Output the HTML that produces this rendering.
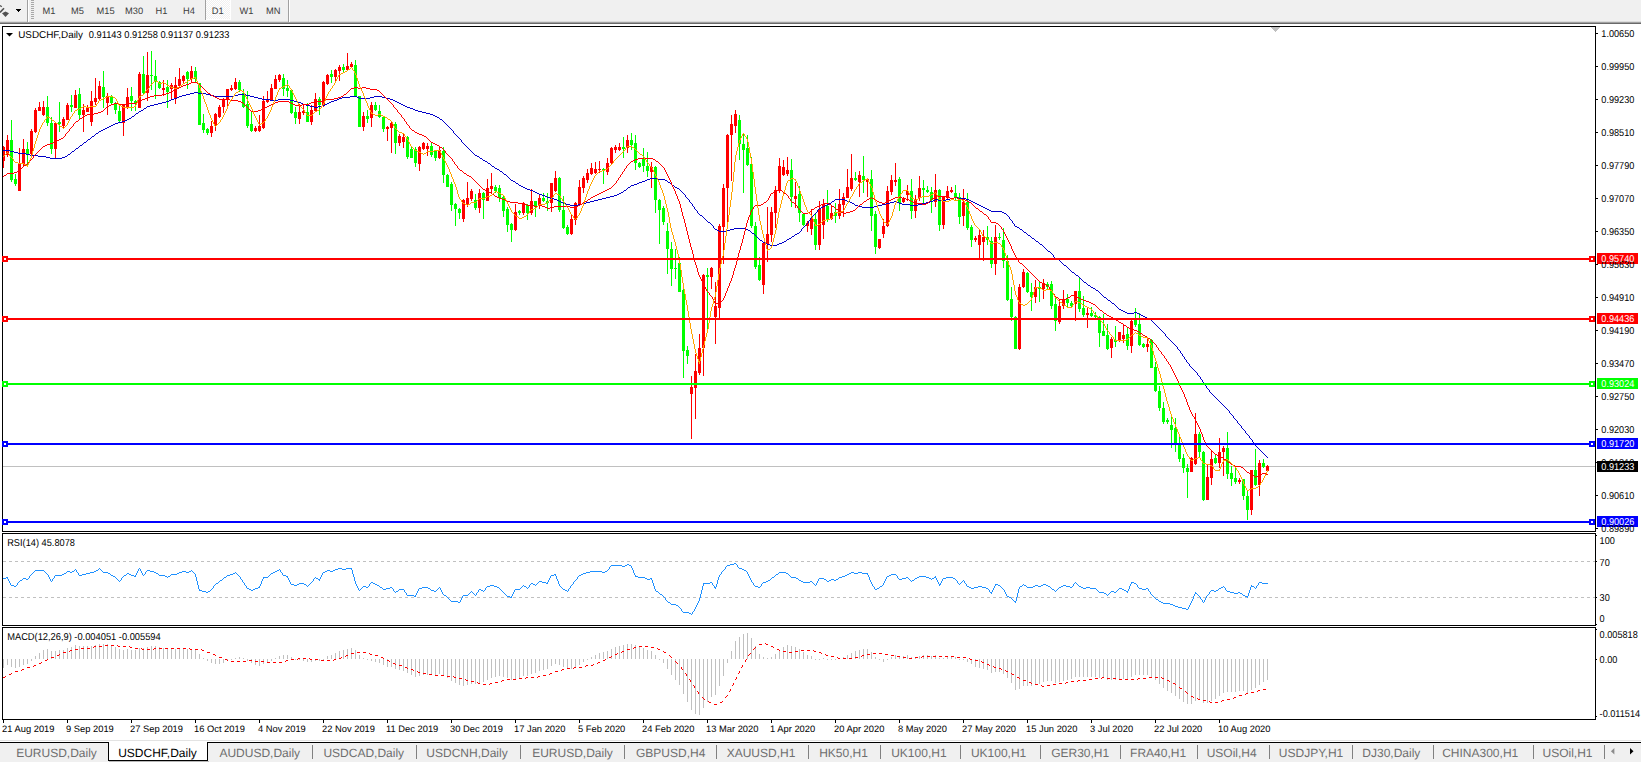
<!DOCTYPE html>
<html><head><meta charset="utf-8"><title>USDCHF,Daily</title>
<style>html,body{margin:0;padding:0;background:#fff;overflow:hidden}body{width:1641px;height:763px;position:relative}</style>
</head><body>
<svg width="1641" height="763" viewBox="0 0 1641 763" style="position:absolute;left:0;top:0" shape-rendering="crispEdges">
<rect x="0" y="0" width="1641" height="763" fill="#ffffff"/>
<rect x="0" y="0" width="1641" height="22" fill="#f0f0f0"/>
<rect x="0" y="21" width="1641" height="1" fill="#dcdcdc"/>
<rect x="0" y="22" width="1641" height="1" fill="#a0a0a0"/>
<rect x="0" y="23" width="1641" height="1" fill="#696969"/>
<rect x="27" y="0" width="1" height="22" fill="#a0a0a0"/><rect x="28" y="0" width="1" height="22" fill="#ffffff"/>
<rect x="31" y="0" width="3" height="1" fill="#a8a8a8"/>
<rect x="31" y="2" width="3" height="1" fill="#a8a8a8"/>
<rect x="31" y="4" width="3" height="1" fill="#a8a8a8"/>
<rect x="31" y="6" width="3" height="1" fill="#a8a8a8"/>
<rect x="31" y="8" width="3" height="1" fill="#a8a8a8"/>
<rect x="31" y="10" width="3" height="1" fill="#a8a8a8"/>
<rect x="31" y="12" width="3" height="1" fill="#a8a8a8"/>
<rect x="31" y="14" width="3" height="1" fill="#a8a8a8"/>
<rect x="31" y="16" width="3" height="1" fill="#a8a8a8"/>
<rect x="31" y="18" width="3" height="1" fill="#a8a8a8"/>
<path d="M16 9h5v1h-1v1h-1v1h-1v-1h-1v-1h-1z" fill="#000"/>
<g shape-rendering="auto"><path d="M0 12.5 L4 8.2" stroke="#505050" stroke-width="1.6" fill="none"/><path d="M0 5.5 L1.8 6.8" stroke="#505050" stroke-width="1.4"/><path d="M2 13.2 L5.5 11.6 L9 13.2 L5.5 17 Z" fill="#505050"/></g>
<pattern id="hx" width="2" height="2" patternUnits="userSpaceOnUse"><rect width="2" height="2" fill="#f0f0f0"/><rect width="1" height="1" fill="#fff"/><rect x="1" y="1" width="1" height="1" fill="#fff"/></pattern>
<rect x="206" y="0" width="24" height="19" fill="url(#hx)"/>
<rect x="205" y="0" width="1" height="20" fill="#a0a0a0"/><rect x="230" y="0" width="1" height="20" fill="#fff"/><rect x="206" y="19" width="25" height="1" fill="#fff"/>
<rect x="288" y="0" width="1" height="22" fill="#a0a0a0"/><rect x="289" y="0" width="1" height="22" fill="#ffffff"/>
<clipPath id="cm"><rect x="3" y="27" width="1592" height="504"/></clipPath>
<g clip-path="url(#cm)">
<rect x="3" y="466" width="1592" height="1" fill="#c0c0c0"/>
<path d="M1271 27h9v1h-1v1h-1v1h-1v1h-1v1h-1v-1h-1v-1h-1v-1h-1v-1h-1z" fill="#c0c0c0"/>
<rect x="3" y="146" width="1" height="22" fill="#ff0000"/><rect x="2" y="147" width="3" height="14" fill="#ff0000"/>
<rect x="7" y="135" width="1" height="22" fill="#ff0000"/><rect x="6" y="140" width="3" height="15" fill="#ff0000"/>
<rect x="11" y="120" width="1" height="62" fill="#00ff00"/><rect x="10" y="140" width="3" height="40" fill="#00ff00"/>
<rect x="15" y="174" width="1" height="12" fill="#00ff00"/><rect x="14" y="179" width="3" height="5" fill="#00ff00"/>
<rect x="19" y="148" width="1" height="43" fill="#ff0000"/><rect x="18" y="164" width="3" height="27" fill="#ff0000"/>
<rect x="23" y="139" width="1" height="27" fill="#ff0000"/><rect x="22" y="149" width="3" height="15" fill="#ff0000"/>
<rect x="27" y="142" width="1" height="24" fill="#00ff00"/><rect x="26" y="149" width="3" height="5" fill="#00ff00"/>
<rect x="31" y="129" width="1" height="27" fill="#ff0000"/><rect x="30" y="131" width="3" height="23" fill="#ff0000"/>
<rect x="35" y="108" width="1" height="25" fill="#ff0000"/><rect x="34" y="110" width="3" height="22" fill="#ff0000"/>
<rect x="39" y="102" width="1" height="9" fill="#ff0000"/><rect x="38" y="107" width="3" height="4" fill="#ff0000"/>
<rect x="43" y="101" width="1" height="15" fill="#ff0000"/><rect x="42" y="107" width="3" height="8" fill="#ff0000"/>
<rect x="47" y="96" width="1" height="30" fill="#00ff00"/><rect x="46" y="107" width="3" height="16" fill="#00ff00"/>
<rect x="51" y="117" width="1" height="37" fill="#00ff00"/><rect x="50" y="123" width="3" height="26" fill="#00ff00"/>
<rect x="55" y="123" width="1" height="35" fill="#ff0000"/><rect x="54" y="123" width="3" height="26" fill="#ff0000"/>
<rect x="59" y="102" width="1" height="30" fill="#00ff00"/><rect x="58" y="122" width="3" height="2" fill="#00ff00"/>
<rect x="63" y="117" width="1" height="11" fill="#ff0000"/><rect x="62" y="119" width="3" height="7" fill="#ff0000"/>
<rect x="67" y="103" width="1" height="17" fill="#ff0000"/><rect x="66" y="105" width="3" height="15" fill="#ff0000"/>
<rect x="71" y="95" width="1" height="17" fill="#00ff00"/><rect x="70" y="105" width="3" height="2" fill="#00ff00"/>
<rect x="75" y="90" width="1" height="18" fill="#ff0000"/><rect x="74" y="95" width="3" height="13" fill="#ff0000"/>
<rect x="79" y="88" width="1" height="31" fill="#00ff00"/><rect x="78" y="94" width="3" height="21" fill="#00ff00"/>
<rect x="83" y="104" width="1" height="28" fill="#ff0000"/><rect x="82" y="110" width="3" height="5" fill="#ff0000"/>
<rect x="87" y="105" width="1" height="7" fill="#ff0000"/><rect x="86" y="107" width="3" height="5" fill="#ff0000"/>
<rect x="91" y="91" width="1" height="35" fill="#ff0000"/><rect x="90" y="101" width="3" height="21" fill="#ff0000"/>
<rect x="95" y="78" width="1" height="27" fill="#ff0000"/><rect x="94" y="98" width="3" height="4" fill="#ff0000"/>
<rect x="99" y="81" width="1" height="19" fill="#ff0000"/><rect x="98" y="86" width="3" height="13" fill="#ff0000"/>
<rect x="103" y="71" width="1" height="37" fill="#00ff00"/><rect x="102" y="87" width="3" height="10" fill="#00ff00"/>
<rect x="107" y="93" width="1" height="22" fill="#ff0000"/><rect x="106" y="96" width="3" height="7" fill="#ff0000"/>
<rect x="111" y="95" width="1" height="9" fill="#00ff00"/><rect x="110" y="96" width="3" height="7" fill="#00ff00"/>
<rect x="115" y="102" width="1" height="12" fill="#00ff00"/><rect x="114" y="103" width="3" height="7" fill="#00ff00"/>
<rect x="119" y="106" width="1" height="17" fill="#00ff00"/><rect x="118" y="111" width="3" height="10" fill="#00ff00"/>
<rect x="123" y="105" width="1" height="31" fill="#ff0000"/><rect x="122" y="105" width="3" height="18" fill="#ff0000"/>
<rect x="127" y="88" width="1" height="21" fill="#ff0000"/><rect x="126" y="97" width="3" height="11" fill="#ff0000"/>
<rect x="131" y="87" width="1" height="24" fill="#00ff00"/><rect x="130" y="96" width="3" height="5" fill="#00ff00"/>
<rect x="135" y="100" width="1" height="11" fill="#00ff00"/><rect x="134" y="101" width="3" height="3" fill="#00ff00"/>
<rect x="139" y="72" width="1" height="36" fill="#ff0000"/><rect x="138" y="74" width="3" height="34" fill="#ff0000"/>
<rect x="143" y="56" width="1" height="39" fill="#00ff00"/><rect x="142" y="74" width="3" height="19" fill="#00ff00"/>
<rect x="147" y="52" width="1" height="49" fill="#ff0000"/><rect x="146" y="75" width="3" height="18" fill="#ff0000"/>
<rect x="151" y="51" width="1" height="39" fill="#00ff00"/><rect x="150" y="75" width="3" height="1" fill="#00ff00"/>
<rect x="155" y="60" width="1" height="39" fill="#00ff00"/><rect x="154" y="76" width="3" height="5" fill="#00ff00"/>
<rect x="159" y="81" width="1" height="8" fill="#00ff00"/><rect x="158" y="82" width="3" height="6" fill="#00ff00"/>
<rect x="163" y="80" width="1" height="16" fill="#ff0000"/><rect x="162" y="88" width="3" height="2" fill="#ff0000"/>
<rect x="167" y="80" width="1" height="28" fill="#00ff00"/><rect x="166" y="87" width="3" height="5" fill="#00ff00"/>
<rect x="171" y="83" width="1" height="17" fill="#ff0000"/><rect x="170" y="85" width="3" height="4" fill="#ff0000"/>
<rect x="175" y="77" width="1" height="27" fill="#ff0000"/><rect x="174" y="85" width="3" height="14" fill="#ff0000"/>
<rect x="179" y="68" width="1" height="20" fill="#ff0000"/><rect x="178" y="79" width="3" height="7" fill="#ff0000"/>
<rect x="183" y="75" width="1" height="9" fill="#ff0000"/><rect x="182" y="76" width="3" height="5" fill="#ff0000"/>
<rect x="187" y="71" width="1" height="18" fill="#00ff00"/><rect x="186" y="72" width="3" height="7" fill="#00ff00"/>
<rect x="191" y="66" width="1" height="16" fill="#ff0000"/><rect x="190" y="71" width="3" height="8" fill="#ff0000"/>
<rect x="195" y="67" width="1" height="15" fill="#00ff00"/><rect x="194" y="71" width="3" height="8" fill="#00ff00"/>
<rect x="199" y="83" width="1" height="42" fill="#00ff00"/><rect x="198" y="83" width="3" height="42" fill="#00ff00"/>
<rect x="203" y="114" width="1" height="19" fill="#00ff00"/><rect x="202" y="123" width="3" height="7" fill="#00ff00"/>
<rect x="207" y="128" width="1" height="7" fill="#00ff00"/><rect x="206" y="129" width="3" height="4" fill="#00ff00"/>
<rect x="211" y="121" width="1" height="16" fill="#ff0000"/><rect x="210" y="126" width="3" height="7" fill="#ff0000"/>
<rect x="215" y="113" width="1" height="18" fill="#ff0000"/><rect x="214" y="114" width="3" height="12" fill="#ff0000"/>
<rect x="219" y="105" width="1" height="13" fill="#ff0000"/><rect x="218" y="107" width="3" height="10" fill="#ff0000"/>
<rect x="223" y="98" width="1" height="15" fill="#ff0000"/><rect x="222" y="99" width="3" height="8" fill="#ff0000"/>
<rect x="227" y="89" width="1" height="17" fill="#ff0000"/><rect x="226" y="89" width="3" height="11" fill="#ff0000"/>
<rect x="231" y="85" width="1" height="6" fill="#ff0000"/><rect x="230" y="88" width="3" height="2" fill="#ff0000"/>
<rect x="235" y="78" width="1" height="12" fill="#ff0000"/><rect x="234" y="82" width="3" height="7" fill="#ff0000"/>
<rect x="239" y="80" width="1" height="12" fill="#00ff00"/><rect x="238" y="82" width="3" height="8" fill="#00ff00"/>
<rect x="243" y="89" width="1" height="19" fill="#00ff00"/><rect x="242" y="93" width="3" height="14" fill="#00ff00"/>
<rect x="247" y="91" width="1" height="37" fill="#00ff00"/><rect x="246" y="104" width="3" height="22" fill="#00ff00"/>
<rect x="251" y="112" width="1" height="20" fill="#00ff00"/><rect x="250" y="124" width="3" height="7" fill="#00ff00"/>
<rect x="255" y="126" width="1" height="6" fill="#ff0000"/><rect x="254" y="128" width="3" height="3" fill="#ff0000"/>
<rect x="259" y="115" width="1" height="17" fill="#ff0000"/><rect x="258" y="126" width="3" height="5" fill="#ff0000"/>
<rect x="263" y="96" width="1" height="33" fill="#ff0000"/><rect x="262" y="101" width="3" height="27" fill="#ff0000"/>
<rect x="267" y="91" width="1" height="12" fill="#ff0000"/><rect x="266" y="99" width="3" height="3" fill="#ff0000"/>
<rect x="271" y="84" width="1" height="17" fill="#ff0000"/><rect x="270" y="88" width="3" height="12" fill="#ff0000"/>
<rect x="275" y="75" width="1" height="14" fill="#ff0000"/><rect x="274" y="79" width="3" height="10" fill="#ff0000"/>
<rect x="279" y="74" width="1" height="8" fill="#ff0000"/><rect x="278" y="75" width="3" height="5" fill="#ff0000"/>
<rect x="283" y="74" width="1" height="22" fill="#00ff00"/><rect x="282" y="78" width="3" height="11" fill="#00ff00"/>
<rect x="287" y="80" width="1" height="17" fill="#00ff00"/><rect x="286" y="88" width="3" height="3" fill="#00ff00"/>
<rect x="291" y="89" width="1" height="25" fill="#00ff00"/><rect x="290" y="90" width="3" height="23" fill="#00ff00"/>
<rect x="295" y="107" width="1" height="17" fill="#00ff00"/><rect x="294" y="112" width="3" height="6" fill="#00ff00"/>
<rect x="299" y="104" width="1" height="20" fill="#ff0000"/><rect x="298" y="112" width="3" height="7" fill="#ff0000"/>
<rect x="303" y="105" width="1" height="10" fill="#ff0000"/><rect x="302" y="111" width="3" height="2" fill="#ff0000"/>
<rect x="307" y="103" width="1" height="19" fill="#00ff00"/><rect x="306" y="112" width="3" height="10" fill="#00ff00"/>
<rect x="311" y="105" width="1" height="20" fill="#ff0000"/><rect x="310" y="110" width="3" height="12" fill="#ff0000"/>
<rect x="315" y="93" width="1" height="19" fill="#ff0000"/><rect x="314" y="99" width="3" height="12" fill="#ff0000"/>
<rect x="319" y="97" width="1" height="18" fill="#00ff00"/><rect x="318" y="99" width="3" height="6" fill="#00ff00"/>
<rect x="323" y="81" width="1" height="26" fill="#ff0000"/><rect x="322" y="82" width="3" height="23" fill="#ff0000"/>
<rect x="327" y="74" width="1" height="11" fill="#ff0000"/><rect x="326" y="75" width="3" height="9" fill="#ff0000"/>
<rect x="331" y="70" width="1" height="13" fill="#00ff00"/><rect x="330" y="74" width="3" height="3" fill="#00ff00"/>
<rect x="335" y="69" width="1" height="13" fill="#ff0000"/><rect x="334" y="70" width="3" height="7" fill="#ff0000"/>
<rect x="339" y="65" width="1" height="16" fill="#ff0000"/><rect x="338" y="67" width="3" height="4" fill="#ff0000"/>
<rect x="343" y="64" width="1" height="8" fill="#00ff00"/><rect x="342" y="67" width="3" height="3" fill="#00ff00"/>
<rect x="347" y="53" width="1" height="18" fill="#ff0000"/><rect x="346" y="66" width="3" height="4" fill="#ff0000"/>
<rect x="351" y="62" width="1" height="6" fill="#ff0000"/><rect x="350" y="64" width="3" height="3" fill="#ff0000"/>
<rect x="355" y="60" width="1" height="37" fill="#00ff00"/><rect x="354" y="65" width="3" height="31" fill="#00ff00"/>
<rect x="359" y="96" width="1" height="31" fill="#00ff00"/><rect x="358" y="96" width="3" height="31" fill="#00ff00"/>
<rect x="363" y="112" width="1" height="19" fill="#ff0000"/><rect x="362" y="116" width="3" height="11" fill="#ff0000"/>
<rect x="367" y="110" width="1" height="13" fill="#00ff00"/><rect x="366" y="116" width="3" height="3" fill="#00ff00"/>
<rect x="371" y="102" width="1" height="25" fill="#ff0000"/><rect x="370" y="105" width="3" height="13" fill="#ff0000"/>
<rect x="375" y="102" width="1" height="9" fill="#00ff00"/><rect x="374" y="105" width="3" height="5" fill="#00ff00"/>
<rect x="379" y="105" width="1" height="13" fill="#00ff00"/><rect x="378" y="111" width="3" height="6" fill="#00ff00"/>
<rect x="383" y="116" width="1" height="16" fill="#00ff00"/><rect x="382" y="117" width="3" height="12" fill="#00ff00"/>
<rect x="387" y="126" width="1" height="15" fill="#ff0000"/><rect x="386" y="127" width="3" height="2" fill="#ff0000"/>
<rect x="391" y="122" width="1" height="31" fill="#ff0000"/><rect x="390" y="123" width="3" height="5" fill="#ff0000"/>
<rect x="395" y="122" width="1" height="32" fill="#00ff00"/><rect x="394" y="124" width="3" height="19" fill="#00ff00"/>
<rect x="399" y="134" width="1" height="12" fill="#ff0000"/><rect x="398" y="136" width="3" height="7" fill="#ff0000"/>
<rect x="403" y="134" width="1" height="14" fill="#ff0000"/><rect x="402" y="137" width="3" height="5" fill="#ff0000"/>
<rect x="407" y="136" width="1" height="23" fill="#00ff00"/><rect x="406" y="137" width="3" height="20" fill="#00ff00"/>
<rect x="411" y="147" width="1" height="11" fill="#00ff00"/><rect x="410" y="149" width="3" height="9" fill="#00ff00"/>
<rect x="415" y="147" width="1" height="20" fill="#00ff00"/><rect x="414" y="149" width="3" height="14" fill="#00ff00"/>
<rect x="419" y="146" width="1" height="25" fill="#ff0000"/><rect x="418" y="147" width="3" height="17" fill="#ff0000"/>
<rect x="423" y="142" width="1" height="8" fill="#ff0000"/><rect x="422" y="143" width="3" height="6" fill="#ff0000"/>
<rect x="427" y="143" width="1" height="13" fill="#ff0000"/><rect x="426" y="146" width="3" height="3" fill="#ff0000"/>
<rect x="431" y="142" width="1" height="15" fill="#00ff00"/><rect x="430" y="146" width="3" height="9" fill="#00ff00"/>
<rect x="435" y="150" width="1" height="11" fill="#00ff00"/><rect x="434" y="151" width="3" height="7" fill="#00ff00"/>
<rect x="439" y="147" width="1" height="12" fill="#ff0000"/><rect x="438" y="150" width="3" height="8" fill="#ff0000"/>
<rect x="443" y="147" width="1" height="36" fill="#00ff00"/><rect x="442" y="151" width="3" height="24" fill="#00ff00"/>
<rect x="447" y="174" width="1" height="13" fill="#00ff00"/><rect x="446" y="175" width="3" height="12" fill="#00ff00"/>
<rect x="451" y="182" width="1" height="29" fill="#00ff00"/><rect x="450" y="184" width="3" height="21" fill="#00ff00"/>
<rect x="455" y="203" width="1" height="23" fill="#00ff00"/><rect x="454" y="204" width="3" height="5" fill="#00ff00"/>
<rect x="459" y="208" width="1" height="11" fill="#00ff00"/><rect x="458" y="209" width="3" height="4" fill="#00ff00"/>
<rect x="463" y="199" width="1" height="23" fill="#ff0000"/><rect x="462" y="200" width="3" height="19" fill="#ff0000"/>
<rect x="467" y="182" width="1" height="25" fill="#ff0000"/><rect x="466" y="198" width="3" height="6" fill="#ff0000"/>
<rect x="471" y="189" width="1" height="12" fill="#ff0000"/><rect x="470" y="191" width="3" height="8" fill="#ff0000"/>
<rect x="475" y="194" width="1" height="16" fill="#00ff00"/><rect x="474" y="200" width="3" height="8" fill="#00ff00"/>
<rect x="479" y="189" width="1" height="24" fill="#ff0000"/><rect x="478" y="193" width="3" height="15" fill="#ff0000"/>
<rect x="483" y="192" width="1" height="27" fill="#00ff00"/><rect x="482" y="193" width="3" height="7" fill="#00ff00"/>
<rect x="487" y="179" width="1" height="22" fill="#ff0000"/><rect x="486" y="188" width="3" height="13" fill="#ff0000"/>
<rect x="491" y="173" width="1" height="21" fill="#ff0000"/><rect x="490" y="186" width="3" height="3" fill="#ff0000"/>
<rect x="495" y="185" width="1" height="8" fill="#00ff00"/><rect x="494" y="187" width="3" height="4" fill="#00ff00"/>
<rect x="499" y="185" width="1" height="17" fill="#00ff00"/><rect x="498" y="188" width="3" height="10" fill="#00ff00"/>
<rect x="503" y="195" width="1" height="22" fill="#00ff00"/><rect x="502" y="197" width="3" height="14" fill="#00ff00"/>
<rect x="507" y="207" width="1" height="25" fill="#00ff00"/><rect x="506" y="209" width="3" height="16" fill="#00ff00"/>
<rect x="511" y="223" width="1" height="19" fill="#00ff00"/><rect x="510" y="224" width="3" height="6" fill="#00ff00"/>
<rect x="515" y="204" width="1" height="27" fill="#ff0000"/><rect x="514" y="212" width="3" height="18" fill="#ff0000"/>
<rect x="519" y="210" width="1" height="5" fill="#00ff00"/><rect x="518" y="211" width="3" height="2" fill="#00ff00"/>
<rect x="523" y="202" width="1" height="13" fill="#ff0000"/><rect x="522" y="203" width="3" height="10" fill="#ff0000"/>
<rect x="527" y="204" width="1" height="16" fill="#00ff00"/><rect x="526" y="205" width="3" height="8" fill="#00ff00"/>
<rect x="531" y="189" width="1" height="26" fill="#ff0000"/><rect x="530" y="201" width="3" height="12" fill="#ff0000"/>
<rect x="535" y="201" width="1" height="16" fill="#00ff00"/><rect x="534" y="201" width="3" height="6" fill="#00ff00"/>
<rect x="539" y="194" width="1" height="15" fill="#ff0000"/><rect x="538" y="198" width="3" height="7" fill="#ff0000"/>
<rect x="543" y="193" width="1" height="9" fill="#00ff00"/><rect x="542" y="198" width="3" height="3" fill="#00ff00"/>
<rect x="547" y="193" width="1" height="18" fill="#00ff00"/><rect x="546" y="201" width="3" height="2" fill="#00ff00"/>
<rect x="551" y="183" width="1" height="29" fill="#ff0000"/><rect x="550" y="183" width="3" height="20" fill="#ff0000"/>
<rect x="555" y="171" width="1" height="21" fill="#ff0000"/><rect x="554" y="178" width="3" height="13" fill="#ff0000"/>
<rect x="559" y="177" width="1" height="35" fill="#00ff00"/><rect x="558" y="178" width="3" height="32" fill="#00ff00"/>
<rect x="563" y="196" width="1" height="33" fill="#00ff00"/><rect x="562" y="210" width="3" height="18" fill="#00ff00"/>
<rect x="567" y="225" width="1" height="10" fill="#00ff00"/><rect x="566" y="227" width="3" height="7" fill="#00ff00"/>
<rect x="571" y="215" width="1" height="20" fill="#ff0000"/><rect x="570" y="219" width="3" height="15" fill="#ff0000"/>
<rect x="575" y="202" width="1" height="23" fill="#ff0000"/><rect x="574" y="203" width="3" height="17" fill="#ff0000"/>
<rect x="579" y="180" width="1" height="25" fill="#ff0000"/><rect x="578" y="187" width="3" height="17" fill="#ff0000"/>
<rect x="583" y="176" width="1" height="17" fill="#ff0000"/><rect x="582" y="178" width="3" height="10" fill="#ff0000"/>
<rect x="587" y="169" width="1" height="14" fill="#ff0000"/><rect x="586" y="173" width="3" height="7" fill="#ff0000"/>
<rect x="591" y="163" width="1" height="12" fill="#ff0000"/><rect x="590" y="168" width="3" height="6" fill="#ff0000"/>
<rect x="595" y="162" width="1" height="12" fill="#ff0000"/><rect x="594" y="169" width="3" height="4" fill="#ff0000"/>
<rect x="599" y="161" width="1" height="12" fill="#ff0000"/><rect x="598" y="169" width="3" height="1" fill="#ff0000"/>
<rect x="603" y="168" width="1" height="16" fill="#00ff00"/><rect x="602" y="169" width="3" height="2" fill="#00ff00"/>
<rect x="607" y="158" width="1" height="17" fill="#ff0000"/><rect x="606" y="163" width="3" height="9" fill="#ff0000"/>
<rect x="611" y="147" width="1" height="17" fill="#ff0000"/><rect x="610" y="148" width="3" height="15" fill="#ff0000"/>
<rect x="615" y="145" width="1" height="8" fill="#ff0000"/><rect x="614" y="147" width="3" height="3" fill="#ff0000"/>
<rect x="619" y="143" width="1" height="8" fill="#ff0000"/><rect x="618" y="147" width="3" height="3" fill="#ff0000"/>
<rect x="623" y="137" width="1" height="21" fill="#00ff00"/><rect x="622" y="147" width="3" height="2" fill="#00ff00"/>
<rect x="627" y="135" width="1" height="18" fill="#ff0000"/><rect x="626" y="140" width="3" height="8" fill="#ff0000"/>
<rect x="631" y="133" width="1" height="17" fill="#00ff00"/><rect x="630" y="140" width="3" height="5" fill="#00ff00"/>
<rect x="635" y="135" width="1" height="35" fill="#00ff00"/><rect x="634" y="143" width="3" height="20" fill="#00ff00"/>
<rect x="639" y="162" width="1" height="6" fill="#00ff00"/><rect x="638" y="163" width="3" height="4" fill="#00ff00"/>
<rect x="643" y="148" width="1" height="24" fill="#00ff00"/><rect x="642" y="159" width="3" height="7" fill="#00ff00"/>
<rect x="647" y="152" width="1" height="25" fill="#00ff00"/><rect x="646" y="166" width="3" height="5" fill="#00ff00"/>
<rect x="651" y="162" width="1" height="26" fill="#ff0000"/><rect x="650" y="167" width="3" height="5" fill="#ff0000"/>
<rect x="655" y="166" width="1" height="47" fill="#00ff00"/><rect x="654" y="167" width="3" height="33" fill="#00ff00"/>
<rect x="659" y="199" width="1" height="45" fill="#00ff00"/><rect x="658" y="200" width="3" height="10" fill="#00ff00"/>
<rect x="663" y="206" width="1" height="19" fill="#00ff00"/><rect x="662" y="208" width="3" height="14" fill="#00ff00"/>
<rect x="667" y="223" width="1" height="51" fill="#00ff00"/><rect x="666" y="231" width="3" height="18" fill="#00ff00"/>
<rect x="671" y="242" width="1" height="44" fill="#00ff00"/><rect x="670" y="249" width="3" height="20" fill="#00ff00"/>
<rect x="675" y="249" width="1" height="30" fill="#00ff00"/><rect x="674" y="268" width="3" height="1" fill="#00ff00"/>
<rect x="679" y="257" width="1" height="35" fill="#00ff00"/><rect x="678" y="263" width="3" height="29" fill="#00ff00"/>
<rect x="683" y="289" width="1" height="89" fill="#00ff00"/><rect x="682" y="290" width="3" height="61" fill="#00ff00"/>
<rect x="687" y="346" width="1" height="18" fill="#00ff00"/><rect x="686" y="350" width="3" height="6" fill="#00ff00"/>
<rect x="691" y="376" width="1" height="63" fill="#ff0000"/><rect x="690" y="387" width="3" height="7" fill="#ff0000"/>
<rect x="695" y="354" width="1" height="65" fill="#ff0000"/><rect x="694" y="371" width="3" height="17" fill="#ff0000"/>
<rect x="699" y="334" width="1" height="41" fill="#ff0000"/><rect x="698" y="348" width="3" height="25" fill="#ff0000"/>
<rect x="703" y="274" width="1" height="102" fill="#ff0000"/><rect x="702" y="275" width="3" height="73" fill="#ff0000"/>
<rect x="707" y="268" width="1" height="61" fill="#00ff00"/><rect x="706" y="275" width="3" height="2" fill="#00ff00"/>
<rect x="711" y="267" width="1" height="22" fill="#ff0000"/><rect x="710" y="268" width="3" height="9" fill="#ff0000"/>
<rect x="715" y="282" width="1" height="62" fill="#ff0000"/><rect x="714" y="306" width="3" height="11" fill="#ff0000"/>
<rect x="719" y="224" width="1" height="94" fill="#ff0000"/><rect x="718" y="226" width="3" height="82" fill="#ff0000"/>
<rect x="723" y="184" width="1" height="80" fill="#ff0000"/><rect x="722" y="188" width="3" height="39" fill="#ff0000"/>
<rect x="727" y="134" width="1" height="88" fill="#ff0000"/><rect x="726" y="135" width="3" height="53" fill="#ff0000"/>
<rect x="731" y="115" width="1" height="66" fill="#ff0000"/><rect x="730" y="124" width="3" height="11" fill="#ff0000"/>
<rect x="735" y="110" width="1" height="23" fill="#ff0000"/><rect x="734" y="114" width="3" height="12" fill="#ff0000"/>
<rect x="739" y="115" width="1" height="45" fill="#00ff00"/><rect x="738" y="120" width="3" height="24" fill="#00ff00"/>
<rect x="743" y="133" width="1" height="60" fill="#00ff00"/><rect x="742" y="144" width="3" height="6" fill="#00ff00"/>
<rect x="747" y="135" width="1" height="31" fill="#00ff00"/><rect x="746" y="148" width="3" height="17" fill="#00ff00"/>
<rect x="751" y="157" width="1" height="71" fill="#00ff00"/><rect x="750" y="164" width="3" height="62" fill="#00ff00"/>
<rect x="755" y="222" width="1" height="47" fill="#00ff00"/><rect x="754" y="226" width="3" height="41" fill="#00ff00"/>
<rect x="759" y="257" width="1" height="24" fill="#00ff00"/><rect x="758" y="265" width="3" height="15" fill="#00ff00"/>
<rect x="763" y="243" width="1" height="51" fill="#ff0000"/><rect x="762" y="243" width="3" height="42" fill="#ff0000"/>
<rect x="767" y="207" width="1" height="55" fill="#ff0000"/><rect x="766" y="234" width="3" height="10" fill="#ff0000"/>
<rect x="771" y="207" width="1" height="35" fill="#ff0000"/><rect x="770" y="212" width="3" height="23" fill="#ff0000"/>
<rect x="775" y="186" width="1" height="42" fill="#ff0000"/><rect x="774" y="190" width="3" height="23" fill="#ff0000"/>
<rect x="779" y="158" width="1" height="35" fill="#ff0000"/><rect x="778" y="166" width="3" height="25" fill="#ff0000"/>
<rect x="783" y="160" width="1" height="16" fill="#ff0000"/><rect x="782" y="167" width="3" height="8" fill="#ff0000"/>
<rect x="787" y="157" width="1" height="19" fill="#ff0000"/><rect x="786" y="170" width="3" height="4" fill="#ff0000"/>
<rect x="791" y="159" width="1" height="48" fill="#00ff00"/><rect x="790" y="170" width="3" height="27" fill="#00ff00"/>
<rect x="795" y="182" width="1" height="26" fill="#ff0000"/><rect x="794" y="196" width="3" height="3" fill="#ff0000"/>
<rect x="799" y="186" width="1" height="36" fill="#00ff00"/><rect x="798" y="194" width="3" height="19" fill="#00ff00"/>
<rect x="803" y="213" width="1" height="13" fill="#00ff00"/><rect x="802" y="214" width="3" height="11" fill="#00ff00"/>
<rect x="807" y="221" width="1" height="11" fill="#ff0000"/><rect x="806" y="223" width="3" height="3" fill="#ff0000"/>
<rect x="811" y="209" width="1" height="26" fill="#ff0000"/><rect x="810" y="218" width="3" height="11" fill="#ff0000"/>
<rect x="815" y="214" width="1" height="36" fill="#00ff00"/><rect x="814" y="219" width="3" height="26" fill="#00ff00"/>
<rect x="819" y="201" width="1" height="49" fill="#ff0000"/><rect x="818" y="209" width="3" height="36" fill="#ff0000"/>
<rect x="823" y="199" width="1" height="40" fill="#ff0000"/><rect x="822" y="204" width="3" height="21" fill="#ff0000"/>
<rect x="827" y="190" width="1" height="32" fill="#00ff00"/><rect x="826" y="206" width="3" height="14" fill="#00ff00"/>
<rect x="831" y="205" width="1" height="15" fill="#ff0000"/><rect x="830" y="213" width="3" height="6" fill="#ff0000"/>
<rect x="835" y="203" width="1" height="20" fill="#00ff00"/><rect x="834" y="212" width="3" height="4" fill="#00ff00"/>
<rect x="839" y="189" width="1" height="30" fill="#ff0000"/><rect x="838" y="204" width="3" height="12" fill="#ff0000"/>
<rect x="843" y="193" width="1" height="24" fill="#ff0000"/><rect x="842" y="197" width="3" height="8" fill="#ff0000"/>
<rect x="847" y="169" width="1" height="29" fill="#ff0000"/><rect x="846" y="187" width="3" height="11" fill="#ff0000"/>
<rect x="851" y="154" width="1" height="37" fill="#ff0000"/><rect x="850" y="178" width="3" height="11" fill="#ff0000"/>
<rect x="855" y="172" width="1" height="9" fill="#00ff00"/><rect x="854" y="178" width="3" height="2" fill="#00ff00"/>
<rect x="859" y="171" width="1" height="26" fill="#ff0000"/><rect x="858" y="175" width="3" height="7" fill="#ff0000"/>
<rect x="863" y="156" width="1" height="37" fill="#00ff00"/><rect x="862" y="176" width="3" height="4" fill="#00ff00"/>
<rect x="867" y="178" width="1" height="19" fill="#ff0000"/><rect x="866" y="179" width="3" height="3" fill="#ff0000"/>
<rect x="871" y="170" width="1" height="61" fill="#00ff00"/><rect x="870" y="179" width="3" height="37" fill="#00ff00"/>
<rect x="875" y="211" width="1" height="43" fill="#00ff00"/><rect x="874" y="214" width="3" height="33" fill="#00ff00"/>
<rect x="879" y="239" width="1" height="10" fill="#ff0000"/><rect x="878" y="239" width="3" height="9" fill="#ff0000"/>
<rect x="883" y="219" width="1" height="19" fill="#ff0000"/><rect x="882" y="226" width="3" height="8" fill="#ff0000"/>
<rect x="887" y="186" width="1" height="41" fill="#ff0000"/><rect x="886" y="191" width="3" height="35" fill="#ff0000"/>
<rect x="891" y="175" width="1" height="20" fill="#ff0000"/><rect x="890" y="180" width="3" height="12" fill="#ff0000"/>
<rect x="895" y="163" width="1" height="23" fill="#ff0000"/><rect x="894" y="180" width="3" height="2" fill="#ff0000"/>
<rect x="899" y="177" width="1" height="34" fill="#00ff00"/><rect x="898" y="179" width="3" height="24" fill="#00ff00"/>
<rect x="903" y="197" width="1" height="6" fill="#ff0000"/><rect x="902" y="198" width="3" height="4" fill="#ff0000"/>
<rect x="907" y="185" width="1" height="16" fill="#ff0000"/><rect x="906" y="191" width="3" height="4" fill="#ff0000"/>
<rect x="911" y="179" width="1" height="40" fill="#00ff00"/><rect x="910" y="191" width="3" height="20" fill="#00ff00"/>
<rect x="915" y="195" width="1" height="23" fill="#ff0000"/><rect x="914" y="199" width="3" height="12" fill="#ff0000"/>
<rect x="919" y="176" width="1" height="25" fill="#ff0000"/><rect x="918" y="188" width="3" height="10" fill="#ff0000"/>
<rect x="923" y="180" width="1" height="24" fill="#00ff00"/><rect x="922" y="188" width="3" height="2" fill="#00ff00"/>
<rect x="927" y="186" width="1" height="7" fill="#00ff00"/><rect x="926" y="190" width="3" height="2" fill="#00ff00"/>
<rect x="931" y="187" width="1" height="26" fill="#00ff00"/><rect x="930" y="192" width="3" height="8" fill="#00ff00"/>
<rect x="935" y="174" width="1" height="33" fill="#ff0000"/><rect x="934" y="190" width="3" height="12" fill="#ff0000"/>
<rect x="939" y="189" width="1" height="42" fill="#00ff00"/><rect x="938" y="190" width="3" height="35" fill="#00ff00"/>
<rect x="943" y="196" width="1" height="33" fill="#ff0000"/><rect x="942" y="197" width="3" height="28" fill="#ff0000"/>
<rect x="947" y="186" width="1" height="13" fill="#ff0000"/><rect x="946" y="191" width="3" height="7" fill="#ff0000"/>
<rect x="951" y="187" width="1" height="6" fill="#ff0000"/><rect x="950" y="190" width="3" height="2" fill="#ff0000"/>
<rect x="955" y="185" width="1" height="15" fill="#00ff00"/><rect x="954" y="193" width="3" height="5" fill="#00ff00"/>
<rect x="959" y="193" width="1" height="31" fill="#00ff00"/><rect x="958" y="197" width="3" height="20" fill="#00ff00"/>
<rect x="963" y="189" width="1" height="37" fill="#ff0000"/><rect x="962" y="202" width="3" height="14" fill="#ff0000"/>
<rect x="967" y="193" width="1" height="37" fill="#00ff00"/><rect x="966" y="202" width="3" height="26" fill="#00ff00"/>
<rect x="971" y="225" width="1" height="22" fill="#00ff00"/><rect x="970" y="227" width="3" height="13" fill="#00ff00"/>
<rect x="975" y="236" width="1" height="6" fill="#ff0000"/><rect x="974" y="238" width="3" height="2" fill="#ff0000"/>
<rect x="979" y="230" width="1" height="28" fill="#ff0000"/><rect x="978" y="235" width="3" height="10" fill="#ff0000"/>
<rect x="983" y="230" width="1" height="31" fill="#ff0000"/><rect x="982" y="237" width="3" height="5" fill="#ff0000"/>
<rect x="987" y="226" width="1" height="19" fill="#00ff00"/><rect x="986" y="237" width="3" height="3" fill="#00ff00"/>
<rect x="991" y="237" width="1" height="31" fill="#00ff00"/><rect x="990" y="241" width="3" height="23" fill="#00ff00"/>
<rect x="995" y="225" width="1" height="50" fill="#ff0000"/><rect x="994" y="237" width="3" height="27" fill="#ff0000"/>
<rect x="999" y="233" width="1" height="7" fill="#00ff00"/><rect x="998" y="237" width="3" height="1" fill="#00ff00"/>
<rect x="1003" y="228" width="1" height="40" fill="#00ff00"/><rect x="1002" y="240" width="3" height="21" fill="#00ff00"/>
<rect x="1007" y="255" width="1" height="46" fill="#00ff00"/><rect x="1006" y="261" width="3" height="39" fill="#00ff00"/>
<rect x="1011" y="287" width="1" height="34" fill="#00ff00"/><rect x="1010" y="299" width="3" height="18" fill="#00ff00"/>
<rect x="1015" y="316" width="1" height="33" fill="#00ff00"/><rect x="1014" y="317" width="3" height="32" fill="#00ff00"/>
<rect x="1019" y="284" width="1" height="66" fill="#ff0000"/><rect x="1018" y="287" width="3" height="62" fill="#ff0000"/>
<rect x="1023" y="269" width="1" height="19" fill="#ff0000"/><rect x="1022" y="272" width="3" height="15" fill="#ff0000"/>
<rect x="1027" y="272" width="1" height="21" fill="#00ff00"/><rect x="1026" y="273" width="3" height="19" fill="#00ff00"/>
<rect x="1031" y="283" width="1" height="28" fill="#00ff00"/><rect x="1030" y="292" width="3" height="5" fill="#00ff00"/>
<rect x="1035" y="280" width="1" height="23" fill="#ff0000"/><rect x="1034" y="287" width="3" height="10" fill="#ff0000"/>
<rect x="1039" y="281" width="1" height="21" fill="#00ff00"/><rect x="1038" y="287" width="3" height="2" fill="#00ff00"/>
<rect x="1043" y="279" width="1" height="20" fill="#ff0000"/><rect x="1042" y="283" width="3" height="6" fill="#ff0000"/>
<rect x="1047" y="282" width="1" height="7" fill="#00ff00"/><rect x="1046" y="284" width="3" height="3" fill="#00ff00"/>
<rect x="1051" y="281" width="1" height="28" fill="#00ff00"/><rect x="1050" y="284" width="3" height="22" fill="#00ff00"/>
<rect x="1055" y="298" width="1" height="33" fill="#00ff00"/><rect x="1054" y="304" width="3" height="17" fill="#00ff00"/>
<rect x="1059" y="299" width="1" height="25" fill="#ff0000"/><rect x="1058" y="306" width="3" height="16" fill="#ff0000"/>
<rect x="1063" y="290" width="1" height="19" fill="#ff0000"/><rect x="1062" y="299" width="3" height="7" fill="#ff0000"/>
<rect x="1067" y="294" width="1" height="14" fill="#00ff00"/><rect x="1066" y="299" width="3" height="4" fill="#00ff00"/>
<rect x="1071" y="301" width="1" height="7" fill="#00ff00"/><rect x="1070" y="303" width="3" height="3" fill="#00ff00"/>
<rect x="1075" y="291" width="1" height="30" fill="#ff0000"/><rect x="1074" y="291" width="3" height="13" fill="#ff0000"/>
<rect x="1079" y="278" width="1" height="34" fill="#00ff00"/><rect x="1078" y="291" width="3" height="18" fill="#00ff00"/>
<rect x="1083" y="296" width="1" height="21" fill="#00ff00"/><rect x="1082" y="308" width="3" height="7" fill="#00ff00"/>
<rect x="1087" y="308" width="1" height="20" fill="#ff0000"/><rect x="1086" y="313" width="3" height="2" fill="#ff0000"/>
<rect x="1091" y="307" width="1" height="10" fill="#00ff00"/><rect x="1090" y="313" width="3" height="3" fill="#00ff00"/>
<rect x="1095" y="312" width="1" height="7" fill="#00ff00"/><rect x="1094" y="315" width="3" height="2" fill="#00ff00"/>
<rect x="1099" y="316" width="1" height="31" fill="#00ff00"/><rect x="1098" y="317" width="3" height="16" fill="#00ff00"/>
<rect x="1103" y="314" width="1" height="22" fill="#00ff00"/><rect x="1102" y="331" width="3" height="5" fill="#00ff00"/>
<rect x="1107" y="324" width="1" height="26" fill="#00ff00"/><rect x="1106" y="335" width="3" height="14" fill="#00ff00"/>
<rect x="1111" y="337" width="1" height="21" fill="#ff0000"/><rect x="1110" y="339" width="3" height="9" fill="#ff0000"/>
<rect x="1115" y="326" width="1" height="21" fill="#00ff00"/><rect x="1114" y="340" width="3" height="2" fill="#00ff00"/>
<rect x="1119" y="332" width="1" height="10" fill="#ff0000"/><rect x="1118" y="332" width="3" height="9" fill="#ff0000"/>
<rect x="1123" y="324" width="1" height="19" fill="#ff0000"/><rect x="1122" y="335" width="3" height="4" fill="#ff0000"/>
<rect x="1127" y="328" width="1" height="22" fill="#00ff00"/><rect x="1126" y="334" width="3" height="12" fill="#00ff00"/>
<rect x="1131" y="320" width="1" height="33" fill="#ff0000"/><rect x="1130" y="321" width="3" height="25" fill="#ff0000"/>
<rect x="1135" y="308" width="1" height="19" fill="#00ff00"/><rect x="1134" y="320" width="3" height="5" fill="#00ff00"/>
<rect x="1139" y="313" width="1" height="33" fill="#00ff00"/><rect x="1138" y="324" width="3" height="21" fill="#00ff00"/>
<rect x="1143" y="343" width="1" height="5" fill="#00ff00"/><rect x="1142" y="344" width="3" height="3" fill="#00ff00"/>
<rect x="1147" y="337" width="1" height="15" fill="#ff0000"/><rect x="1146" y="344" width="3" height="3" fill="#ff0000"/>
<rect x="1151" y="339" width="1" height="29" fill="#00ff00"/><rect x="1150" y="340" width="3" height="28" fill="#00ff00"/>
<rect x="1155" y="362" width="1" height="30" fill="#00ff00"/><rect x="1154" y="367" width="3" height="24" fill="#00ff00"/>
<rect x="1159" y="386" width="1" height="25" fill="#00ff00"/><rect x="1158" y="391" width="3" height="17" fill="#00ff00"/>
<rect x="1163" y="402" width="1" height="22" fill="#00ff00"/><rect x="1162" y="408" width="3" height="14" fill="#00ff00"/>
<rect x="1167" y="418" width="1" height="6" fill="#00ff00"/><rect x="1166" y="420" width="3" height="2" fill="#00ff00"/>
<rect x="1171" y="417" width="1" height="31" fill="#00ff00"/><rect x="1170" y="425" width="3" height="5" fill="#00ff00"/>
<rect x="1175" y="418" width="1" height="34" fill="#00ff00"/><rect x="1174" y="428" width="3" height="17" fill="#00ff00"/>
<rect x="1179" y="437" width="1" height="25" fill="#00ff00"/><rect x="1178" y="445" width="3" height="14" fill="#00ff00"/>
<rect x="1183" y="454" width="1" height="19" fill="#00ff00"/><rect x="1182" y="458" width="3" height="10" fill="#00ff00"/>
<rect x="1187" y="464" width="1" height="34" fill="#00ff00"/><rect x="1186" y="468" width="3" height="4" fill="#00ff00"/>
<rect x="1191" y="457" width="1" height="15" fill="#ff0000"/><rect x="1190" y="458" width="3" height="14" fill="#ff0000"/>
<rect x="1195" y="413" width="1" height="52" fill="#ff0000"/><rect x="1194" y="434" width="3" height="30" fill="#ff0000"/>
<rect x="1199" y="432" width="1" height="25" fill="#00ff00"/><rect x="1198" y="434" width="3" height="18" fill="#00ff00"/>
<rect x="1203" y="451" width="1" height="50" fill="#00ff00"/><rect x="1202" y="452" width="3" height="48" fill="#00ff00"/>
<rect x="1207" y="465" width="1" height="35" fill="#ff0000"/><rect x="1206" y="477" width="3" height="23" fill="#ff0000"/>
<rect x="1211" y="451" width="1" height="34" fill="#ff0000"/><rect x="1210" y="459" width="3" height="19" fill="#ff0000"/>
<rect x="1215" y="454" width="1" height="10" fill="#00ff00"/><rect x="1214" y="458" width="3" height="5" fill="#00ff00"/>
<rect x="1219" y="438" width="1" height="30" fill="#ff0000"/><rect x="1218" y="452" width="3" height="11" fill="#ff0000"/>
<rect x="1223" y="446" width="1" height="30" fill="#ff0000"/><rect x="1222" y="448" width="3" height="4" fill="#ff0000"/>
<rect x="1227" y="432" width="1" height="47" fill="#00ff00"/><rect x="1226" y="448" width="3" height="26" fill="#00ff00"/>
<rect x="1231" y="466" width="1" height="20" fill="#00ff00"/><rect x="1230" y="473" width="3" height="6" fill="#00ff00"/>
<rect x="1235" y="466" width="1" height="18" fill="#00ff00"/><rect x="1234" y="478" width="3" height="4" fill="#00ff00"/>
<rect x="1239" y="478" width="1" height="6" fill="#ff0000"/><rect x="1238" y="480" width="3" height="2" fill="#ff0000"/>
<rect x="1243" y="479" width="1" height="21" fill="#00ff00"/><rect x="1242" y="479" width="3" height="17" fill="#00ff00"/>
<rect x="1247" y="491" width="1" height="29" fill="#00ff00"/><rect x="1246" y="496" width="3" height="14" fill="#00ff00"/>
<rect x="1251" y="470" width="1" height="45" fill="#ff0000"/><rect x="1250" y="470" width="3" height="40" fill="#ff0000"/>
<rect x="1255" y="449" width="1" height="37" fill="#00ff00"/><rect x="1254" y="470" width="3" height="15" fill="#00ff00"/>
<rect x="1259" y="460" width="1" height="36" fill="#ff0000"/><rect x="1258" y="463" width="3" height="22" fill="#ff0000"/>
<rect x="1263" y="459" width="1" height="9" fill="#00ff00"/><rect x="1262" y="463" width="3" height="4" fill="#00ff00"/>
<rect x="1267" y="465" width="1" height="7" fill="#ff0000"/><rect x="1266" y="466" width="3" height="5" fill="#ff0000"/>
<path d="M453 131h1v2h-1zM461 140h1v2h-1zM685 195h1v2h-1zM689 200h1v2h-1zM692 204h1v2h-1zM694 207h1v2h-1zM697 211h1v2h-1zM713 226h1v2h-1zM801 229h1v2h-1zM808 221h1v2h-1zM810 218h1v2h-1zM817 210h1v2h-1zM1009 217h1v2h-1zM1012 221h1v2h-1zM1014 224h1v2h-1zM1053 255h1v2h-1zM1165 334h1v2h-1zM1177 347h1v2h-1zM1180 351h1v2h-1zM1182 354h1v2h-1zM1184 357h1v2h-1zM1186 360h1v2h-1zM1189 364h1v2h-1zM1197 373h1v2h-1zM1200 377h1v2h-1zM1202 380h1v2h-1zM1204 383h1v2h-1zM1206 386h1v2h-1zM1209 390h1v2h-1zM1229 411h1v2h-1zM1233 416h1v2h-1zM1237 421h1v2h-1zM1241 426h1v2h-1zM1245 431h1v2h-1zM1249 436h1v2h-1zM1252 440h1v2h-1zM1254 443h1v2h-1zM194 92h4v1h-4zM190 93h4v1h-4zM198 93h8v1h-8zM186 94h4v1h-4zM206 94h4v1h-4zM238 94h8v1h-8zM182 95h4v1h-4zM210 95h4v1h-4zM234 95h4v1h-4zM246 95h4v1h-4zM179 96h3v1h-3zM214 96h20v1h-20zM250 96h4v1h-4zM350 96h7v1h-7zM374 96h8v1h-8zM177 97h2v1h-2zM254 97h4v1h-4zM342 97h8v1h-8zM357 97h2v1h-2zM370 97h4v1h-4zM382 97h4v1h-4zM174 98h3v1h-3zM258 98h4v1h-4zM339 98h3v1h-3zM359 98h11v1h-11zM386 98h4v1h-4zM171 99h3v1h-3zM262 99h8v1h-8zM278 99h12v1h-12zM337 99h2v1h-2zM390 99h3v1h-3zM169 100h2v1h-2zM270 100h8v1h-8zM290 100h4v1h-4zM334 100h3v1h-3zM393 100h2v1h-2zM166 101h3v1h-3zM294 101h4v1h-4zM331 101h3v1h-3zM395 101h2v1h-2zM162 102h4v1h-4zM298 102h3v1h-3zM329 102h2v1h-2zM397 102h2v1h-2zM158 103h4v1h-4zM301 103h2v1h-2zM327 103h2v1h-2zM399 103h2v1h-2zM154 104h4v1h-4zM303 104h3v1h-3zM325 104h2v1h-2zM401 104h2v1h-2zM150 105h4v1h-4zM306 105h4v1h-4zM322 105h3v1h-3zM403 105h2v1h-2zM147 106h3v1h-3zM310 106h4v1h-4zM318 106h4v1h-4zM405 106h2v1h-2zM146 107h1v1h-1zM314 107h4v1h-4zM407 107h3v1h-3zM144 108h2v1h-2zM410 108h3v1h-3zM143 109h1v1h-1zM413 109h2v1h-2zM141 110h2v1h-2zM415 110h3v1h-3zM139 111h2v1h-2zM418 111h4v1h-4zM138 112h1v1h-1zM422 112h4v1h-4zM136 113h2v1h-2zM426 113h4v1h-4zM135 114h1v1h-1zM430 114h3v1h-3zM134 115h1v1h-1zM433 115h2v1h-2zM132 116h2v1h-2zM435 116h2v1h-2zM131 117h1v1h-1zM437 117h2v1h-2zM129 118h2v1h-2zM439 118h1v1h-1zM127 119h2v1h-2zM440 119h2v1h-2zM125 120h2v1h-2zM442 120h1v1h-1zM122 121h3v1h-3zM443 121h1v1h-1zM118 122h4v1h-4zM444 122h1v1h-1zM115 123h3v1h-3zM445 123h1v1h-1zM113 124h2v1h-2zM446 124h1v1h-1zM111 125h2v1h-2zM447 125h1v1h-1zM109 126h2v1h-2zM448 126h1v1h-1zM107 127h2v1h-2zM449 127h1v1h-1zM105 128h2v1h-2zM450 128h1v1h-1zM103 129h2v1h-2zM451 129h1v1h-1zM101 130h2v1h-2zM452 130h1v1h-1zM99 131h2v1h-2zM98 132h1v1h-1zM96 133h2v1h-2zM454 133h1v1h-1zM95 134h1v1h-1zM455 134h1v1h-1zM94 135h1v1h-1zM456 135h1v1h-1zM92 136h2v1h-2zM457 136h1v1h-1zM91 137h1v1h-1zM458 137h1v1h-1zM90 138h1v1h-1zM459 138h1v1h-1zM88 139h2v1h-2zM460 139h1v1h-1zM87 140h1v1h-1zM86 141h1v1h-1zM84 142h2v1h-2zM462 142h1v1h-1zM83 143h1v1h-1zM463 143h1v1h-1zM82 144h1v1h-1zM464 144h1v1h-1zM80 145h2v1h-2zM465 145h1v1h-1zM79 146h1v1h-1zM466 146h1v1h-1zM78 147h1v1h-1zM467 147h1v1h-1zM76 148h2v1h-2zM468 148h1v1h-1zM75 149h1v1h-1zM469 149h1v1h-1zM3 150h7v1h-7zM74 150h1v1h-1zM470 150h1v1h-1zM10 151h4v1h-4zM72 151h2v1h-2zM471 151h1v1h-1zM14 152h4v1h-4zM71 152h1v1h-1zM472 152h1v1h-1zM18 153h8v1h-8zM70 153h1v1h-1zM473 153h1v1h-1zM26 154h4v1h-4zM68 154h2v1h-2zM474 154h1v1h-1zM30 155h8v1h-8zM67 155h1v1h-1zM475 155h2v1h-2zM38 156h8v1h-8zM65 156h2v1h-2zM477 156h2v1h-2zM46 157h4v1h-4zM62 157h3v1h-3zM479 157h1v1h-1zM50 158h12v1h-12zM480 158h2v1h-2zM482 159h1v1h-1zM483 160h2v1h-2zM485 161h2v1h-2zM487 162h1v1h-1zM488 163h2v1h-2zM490 164h1v1h-1zM491 165h1v1h-1zM492 166h2v1h-2zM494 167h1v1h-1zM495 168h2v1h-2zM497 169h2v1h-2zM499 170h1v1h-1zM500 171h2v1h-2zM502 172h1v1h-1zM503 173h1v1h-1zM504 174h2v1h-2zM506 175h1v1h-1zM507 176h1v1h-1zM508 177h1v1h-1zM509 178h1v1h-1zM650 178h8v1h-8zM510 179h1v1h-1zM647 179h3v1h-3zM658 179h7v1h-7zM511 180h2v1h-2zM645 180h2v1h-2zM665 180h2v1h-2zM513 181h2v1h-2zM642 181h3v1h-3zM667 181h1v1h-1zM515 182h1v1h-1zM639 182h3v1h-3zM668 182h2v1h-2zM516 183h2v1h-2zM637 183h2v1h-2zM670 183h1v1h-1zM518 184h1v1h-1zM634 184h3v1h-3zM671 184h1v1h-1zM519 185h2v1h-2zM631 185h3v1h-3zM672 185h2v1h-2zM521 186h2v1h-2zM630 186h1v1h-1zM674 186h1v1h-1zM523 187h2v1h-2zM628 187h2v1h-2zM675 187h2v1h-2zM525 188h2v1h-2zM627 188h1v1h-1zM677 188h2v1h-2zM527 189h3v1h-3zM626 189h1v1h-1zM679 189h1v1h-1zM530 190h3v1h-3zM624 190h2v1h-2zM680 190h1v1h-1zM533 191h2v1h-2zM623 191h1v1h-1zM681 191h1v1h-1zM535 192h2v1h-2zM621 192h2v1h-2zM682 192h1v1h-1zM537 193h2v1h-2zM619 193h2v1h-2zM683 193h1v1h-1zM539 194h3v1h-3zM617 194h2v1h-2zM684 194h1v1h-1zM542 195h3v1h-3zM614 195h3v1h-3zM545 196h2v1h-2zM610 196h4v1h-4zM547 197h3v1h-3zM606 197h4v1h-4zM686 197h1v1h-1zM954 197h4v1h-4zM550 198h4v1h-4zM602 198h4v1h-4zM687 198h1v1h-1zM950 198h4v1h-4zM958 198h8v1h-8zM554 199h3v1h-3zM598 199h4v1h-4zM688 199h1v1h-1zM835 199h10v1h-10zM935 199h3v1h-3zM946 199h4v1h-4zM966 199h3v1h-3zM557 200h2v1h-2zM594 200h4v1h-4zM834 200h1v1h-1zM845 200h2v1h-2zM933 200h2v1h-2zM938 200h8v1h-8zM969 200h2v1h-2zM559 201h2v1h-2zM590 201h4v1h-4zM832 201h2v1h-2zM847 201h3v1h-3zM894 201h3v1h-3zM930 201h3v1h-3zM971 201h2v1h-2zM561 202h2v1h-2zM586 202h4v1h-4zM690 202h1v1h-1zM831 202h1v1h-1zM850 202h2v1h-2zM890 202h4v1h-4zM897 202h2v1h-2zM926 202h4v1h-4zM973 202h2v1h-2zM563 203h3v1h-3zM582 203h4v1h-4zM691 203h1v1h-1zM829 203h2v1h-2zM852 203h2v1h-2zM886 203h4v1h-4zM899 203h3v1h-3zM922 203h4v1h-4zM975 203h2v1h-2zM566 204h4v1h-4zM578 204h4v1h-4zM827 204h2v1h-2zM854 204h1v1h-1zM882 204h4v1h-4zM902 204h8v1h-8zM918 204h4v1h-4zM977 204h2v1h-2zM570 205h8v1h-8zM825 205h2v1h-2zM855 205h3v1h-3zM878 205h4v1h-4zM910 205h8v1h-8zM979 205h2v1h-2zM693 206h1v1h-1zM823 206h2v1h-2zM858 206h4v1h-4zM874 206h4v1h-4zM981 206h2v1h-2zM821 207h2v1h-2zM862 207h12v1h-12zM983 207h2v1h-2zM819 208h2v1h-2zM985 208h2v1h-2zM695 209h1v1h-1zM818 209h1v1h-1zM987 209h2v1h-2zM696 210h1v1h-1zM989 210h2v1h-2zM991 211h11v1h-11zM816 212h1v1h-1zM1002 212h2v1h-2zM698 213h1v1h-1zM815 213h1v1h-1zM1004 213h2v1h-2zM699 214h1v1h-1zM814 214h1v1h-1zM1006 214h1v1h-1zM700 215h2v1h-2zM813 215h1v1h-1zM1007 215h1v1h-1zM702 216h1v1h-1zM812 216h1v1h-1zM1008 216h1v1h-1zM703 217h1v1h-1zM811 217h1v1h-1zM704 218h1v1h-1zM705 219h1v1h-1zM1010 219h1v1h-1zM706 220h1v1h-1zM809 220h1v1h-1zM1011 220h1v1h-1zM707 221h1v1h-1zM708 222h2v1h-2zM710 223h1v1h-1zM807 223h1v1h-1zM1013 223h1v1h-1zM711 224h1v1h-1zM806 224h1v1h-1zM712 225h1v1h-1zM805 225h1v1h-1zM804 226h1v1h-1zM1015 226h2v1h-2zM803 227h1v1h-1zM1017 227h2v1h-2zM714 228h1v1h-1zM734 228h12v1h-12zM802 228h1v1h-1zM1019 228h1v1h-1zM715 229h2v1h-2zM730 229h4v1h-4zM746 229h2v1h-2zM1020 229h2v1h-2zM717 230h2v1h-2zM726 230h4v1h-4zM748 230h2v1h-2zM1022 230h1v1h-1zM719 231h7v1h-7zM750 231h1v1h-1zM800 231h1v1h-1zM1023 231h1v1h-1zM751 232h1v1h-1zM799 232h1v1h-1zM1024 232h2v1h-2zM752 233h2v1h-2zM797 233h2v1h-2zM1026 233h1v1h-1zM754 234h1v1h-1zM795 234h2v1h-2zM1027 234h1v1h-1zM755 235h1v1h-1zM794 235h1v1h-1zM1028 235h2v1h-2zM756 236h1v1h-1zM792 236h2v1h-2zM1030 236h1v1h-1zM757 237h1v1h-1zM791 237h1v1h-1zM1031 237h1v1h-1zM758 238h1v1h-1zM789 238h2v1h-2zM1032 238h2v1h-2zM759 239h1v1h-1zM787 239h2v1h-2zM1034 239h1v1h-1zM760 240h2v1h-2zM786 240h1v1h-1zM1035 240h1v1h-1zM762 241h1v1h-1zM784 241h2v1h-2zM1036 241h2v1h-2zM763 242h2v1h-2zM782 242h2v1h-2zM1038 242h1v1h-1zM765 243h2v1h-2zM779 243h3v1h-3zM1039 243h1v1h-1zM767 244h3v1h-3zM777 244h2v1h-2zM1040 244h2v1h-2zM770 245h7v1h-7zM1042 245h1v1h-1zM1043 246h1v1h-1zM1044 247h1v1h-1zM1045 248h1v1h-1zM1046 249h1v1h-1zM1047 250h1v1h-1zM1048 251h2v1h-2zM1050 252h1v1h-1zM1051 253h1v1h-1zM1052 254h1v1h-1zM1054 257h1v1h-1zM1055 258h2v1h-2zM1057 259h2v1h-2zM1059 260h1v1h-1zM1060 261h1v1h-1zM1061 262h1v1h-1zM1062 263h1v1h-1zM1063 264h1v1h-1zM1064 265h2v1h-2zM1066 266h1v1h-1zM1067 267h1v1h-1zM1068 268h1v1h-1zM1069 269h1v1h-1zM1070 270h1v1h-1zM1071 271h1v1h-1zM1072 272h2v1h-2zM1074 273h1v1h-1zM1075 274h1v1h-1zM1076 275h2v1h-2zM1078 276h1v1h-1zM1079 277h1v1h-1zM1080 278h1v1h-1zM1081 279h1v1h-1zM1082 280h1v1h-1zM1083 281h1v1h-1zM1084 282h2v1h-2zM1086 283h1v1h-1zM1087 284h1v1h-1zM1088 285h2v1h-2zM1090 286h1v1h-1zM1091 287h2v1h-2zM1093 288h2v1h-2zM1095 289h1v1h-1zM1096 290h2v1h-2zM1098 291h1v1h-1zM1099 292h1v1h-1zM1100 293h1v1h-1zM1101 294h1v1h-1zM1102 295h1v1h-1zM1103 296h1v1h-1zM1104 297h2v1h-2zM1106 298h1v1h-1zM1107 299h1v1h-1zM1108 300h2v1h-2zM1110 301h1v1h-1zM1111 302h1v1h-1zM1112 303h2v1h-2zM1114 304h1v1h-1zM1115 305h1v1h-1zM1116 306h1v1h-1zM1117 307h1v1h-1zM1118 308h1v1h-1zM1119 309h2v1h-2zM1121 310h2v1h-2zM1123 311h2v1h-2zM1125 312h2v1h-2zM1134 312h3v1h-3zM1127 313h7v1h-7zM1137 313h2v1h-2zM1139 314h2v1h-2zM1141 315h2v1h-2zM1143 316h2v1h-2zM1145 317h2v1h-2zM1147 318h2v1h-2zM1149 319h2v1h-2zM1151 320h1v1h-1zM1152 321h1v1h-1zM1153 322h1v1h-1zM1154 323h1v1h-1zM1155 324h1v1h-1zM1156 325h1v1h-1zM1157 326h1v1h-1zM1158 327h1v1h-1zM1159 328h1v1h-1zM1160 329h1v1h-1zM1161 330h1v1h-1zM1162 331h1v1h-1zM1163 332h1v1h-1zM1164 333h1v1h-1zM1166 336h1v1h-1zM1167 337h1v1h-1zM1168 338h1v1h-1zM1169 339h1v1h-1zM1170 340h1v1h-1zM1171 341h1v1h-1zM1172 342h1v1h-1zM1173 343h1v1h-1zM1174 344h1v1h-1zM1175 345h1v1h-1zM1176 346h1v1h-1zM1178 349h1v1h-1zM1179 350h1v1h-1zM1181 353h1v1h-1zM1183 356h1v1h-1zM1185 359h1v1h-1zM1187 362h1v1h-1zM1188 363h1v1h-1zM1190 366h1v1h-1zM1191 367h1v1h-1zM1192 368h1v1h-1zM1193 369h1v1h-1zM1194 370h1v1h-1zM1195 371h1v1h-1zM1196 372h1v1h-1zM1198 375h1v1h-1zM1199 376h1v1h-1zM1201 379h1v1h-1zM1203 382h1v1h-1zM1205 385h1v1h-1zM1207 388h1v1h-1zM1208 389h1v1h-1zM1210 392h1v1h-1zM1211 393h1v1h-1zM1212 394h1v1h-1zM1213 395h1v1h-1zM1214 396h1v1h-1zM1215 397h1v1h-1zM1216 398h1v1h-1zM1217 399h1v1h-1zM1218 400h1v1h-1zM1219 401h1v1h-1zM1220 402h1v1h-1zM1221 403h1v1h-1zM1222 404h1v1h-1zM1223 405h1v1h-1zM1224 406h1v1h-1zM1225 407h1v1h-1zM1226 408h1v1h-1zM1227 409h1v1h-1zM1228 410h1v1h-1zM1230 413h1v1h-1zM1231 414h1v1h-1zM1232 415h1v1h-1zM1234 418h1v1h-1zM1235 419h1v1h-1zM1236 420h1v1h-1zM1238 423h1v1h-1zM1239 424h1v1h-1zM1240 425h1v1h-1zM1242 428h1v1h-1zM1243 429h1v1h-1zM1244 430h1v1h-1zM1246 433h1v1h-1zM1247 434h1v1h-1zM1248 435h1v1h-1zM1250 438h1v1h-1zM1251 439h1v1h-1zM1253 442h1v1h-1zM1255 445h1v1h-1zM1256 446h1v1h-1zM1257 447h1v1h-1zM1258 448h1v1h-1zM1259 449h1v1h-1zM1260 450h1v1h-1zM1261 451h1v1h-1zM1262 452h1v1h-1zM1263 453h1v1h-1zM1264 454h1v1h-1zM1265 455h1v1h-1zM1266 456h1v1h-1zM1267 457h1v1h-1z" fill="#0000c8"/>
<path d="M33 156h1v2h-1zM65 134h1v2h-1zM69 129h1v2h-1zM73 124h1v2h-1zM393 105h1v2h-1zM397 110h1v2h-1zM401 115h1v2h-1zM404 119h1v2h-1zM406 122h1v2h-1zM409 126h1v2h-1zM445 151h1v2h-1zM452 159h1v2h-1zM454 162h1v2h-1zM457 166h1v2h-1zM616 181h1v2h-1zM618 178h1v2h-1zM620 175h1v2h-1zM622 172h1v2h-1zM624 169h1v2h-1zM626 166h1v2h-1zM664 168h1v2h-1zM665 170h1v2h-1zM666 172h1v2h-1zM667 174h1v2h-1zM668 176h1v2h-1zM669 178h1v2h-1zM670 180h1v2h-1zM671 182h1v3h-1zM672 185h1v2h-1zM673 187h1v2h-1zM674 189h1v2h-1zM675 191h1v3h-1zM676 194h1v2h-1zM677 196h1v3h-1zM678 199h1v2h-1zM679 201h1v3h-1zM680 204h1v4h-1zM681 208h1v4h-1zM682 212h1v4h-1zM683 216h1v3h-1zM684 219h1v4h-1zM685 223h1v4h-1zM686 227h1v4h-1zM687 231h1v4h-1zM688 235h1v4h-1zM689 239h1v4h-1zM690 243h1v4h-1zM691 247h1v3h-1zM692 250h1v4h-1zM693 254h1v4h-1zM694 258h1v4h-1zM695 262h1v3h-1zM696 265h1v3h-1zM697 268h1v4h-1zM698 272h1v3h-1zM699 275h1v2h-1zM700 277h1v2h-1zM701 279h1v2h-1zM702 281h1v2h-1zM703 283h1v2h-1zM704 285h1v2h-1zM705 287h1v2h-1zM706 289h1v2h-1zM709 293h1v2h-1zM712 297h1v2h-1zM713 299h1v2h-1zM714 301h1v2h-1zM723 298h1v2h-1zM724 296h1v2h-1zM725 293h1v3h-1zM726 291h1v2h-1zM727 288h1v3h-1zM728 286h1v2h-1zM729 283h1v3h-1zM730 281h1v2h-1zM731 278h1v3h-1zM732 275h1v3h-1zM733 271h1v4h-1zM734 268h1v3h-1zM735 265h1v3h-1zM736 261h1v4h-1zM737 257h1v4h-1zM738 253h1v4h-1zM739 250h1v3h-1zM740 246h1v4h-1zM741 243h1v3h-1zM742 239h1v4h-1zM743 235h1v4h-1zM744 231h1v4h-1zM745 227h1v4h-1zM746 223h1v4h-1zM747 220h1v3h-1zM748 217h1v3h-1zM749 215h1v2h-1zM750 212h1v3h-1zM751 210h1v2h-1zM753 207h1v2h-1zM768 198h1v2h-1zM769 196h1v2h-1zM770 194h1v2h-1zM788 196h1v2h-1zM790 199h1v2h-1zM797 206h1v2h-1zM988 217h1v2h-1zM990 220h1v2h-1zM1001 227h1v2h-1zM1003 230h1v2h-1zM1004 232h1v2h-1zM1005 234h1v2h-1zM1006 236h1v2h-1zM1007 238h1v2h-1zM1008 240h1v2h-1zM1009 242h1v2h-1zM1010 244h1v2h-1zM1011 246h1v3h-1zM1012 249h1v2h-1zM1013 251h1v2h-1zM1014 253h1v2h-1zM1015 255h1v2h-1zM1016 257h1v2h-1zM1018 260h1v2h-1zM1049 287h1v2h-1zM1052 291h1v2h-1zM1054 294h1v2h-1zM1156 345h1v2h-1zM1158 348h1v2h-1zM1161 352h1v2h-1zM1164 356h1v2h-1zM1166 359h1v2h-1zM1168 362h1v2h-1zM1170 365h1v2h-1zM1171 367h1v2h-1zM1172 369h1v2h-1zM1173 371h1v2h-1zM1174 373h1v2h-1zM1175 375h1v2h-1zM1176 377h1v2h-1zM1177 379h1v2h-1zM1178 381h1v2h-1zM1179 383h1v3h-1zM1180 386h1v2h-1zM1181 388h1v2h-1zM1182 390h1v2h-1zM1183 392h1v2h-1zM1184 394h1v3h-1zM1185 397h1v2h-1zM1186 399h1v3h-1zM1187 402h1v3h-1zM1188 405h1v2h-1zM1189 407h1v3h-1zM1190 410h1v2h-1zM1191 412h1v2h-1zM1192 414h1v2h-1zM1194 417h1v2h-1zM1195 419h1v2h-1zM1196 421h1v2h-1zM1197 423h1v2h-1zM1198 425h1v2h-1zM1199 427h1v2h-1zM1200 429h1v3h-1zM1201 432h1v2h-1zM1202 434h1v3h-1zM1203 437h1v3h-1zM1204 440h1v2h-1zM1205 442h1v2h-1zM1206 444h1v2h-1zM191 82h6v1h-6zM189 83h2v1h-2zM197 83h2v1h-2zM186 84h3v1h-3zM199 84h1v1h-1zM183 85h3v1h-3zM200 85h1v1h-1zM181 86h2v1h-2zM201 86h1v1h-1zM179 87h2v1h-2zM202 87h1v1h-1zM354 87h4v1h-4zM362 87h4v1h-4zM177 88h2v1h-2zM203 88h1v1h-1zM351 88h3v1h-3zM358 88h4v1h-4zM366 88h4v1h-4zM175 89h2v1h-2zM204 89h1v1h-1zM350 89h1v1h-1zM370 89h7v1h-7zM173 90h2v1h-2zM205 90h1v1h-1zM349 90h1v1h-1zM377 90h2v1h-2zM171 91h2v1h-2zM206 91h1v1h-1zM348 91h1v1h-1zM379 91h1v1h-1zM169 92h2v1h-2zM207 92h1v1h-1zM347 92h1v1h-1zM380 92h1v1h-1zM166 93h3v1h-3zM208 93h2v1h-2zM346 93h1v1h-1zM381 93h1v1h-1zM162 94h4v1h-4zM210 94h1v1h-1zM344 94h2v1h-2zM382 94h1v1h-1zM154 95h8v1h-8zM211 95h2v1h-2zM343 95h1v1h-1zM383 95h1v1h-1zM150 96h4v1h-4zM213 96h2v1h-2zM341 96h2v1h-2zM384 96h1v1h-1zM147 97h3v1h-3zM215 97h2v1h-2zM338 97h3v1h-3zM385 97h1v1h-1zM145 98h2v1h-2zM217 98h2v1h-2zM334 98h4v1h-4zM386 98h1v1h-1zM142 99h3v1h-3zM219 99h11v1h-11zM326 99h8v1h-8zM387 99h1v1h-1zM139 100h3v1h-3zM230 100h8v1h-8zM322 100h4v1h-4zM388 100h1v1h-1zM138 101h1v1h-1zM238 101h3v1h-3zM278 101h11v1h-11zM314 101h8v1h-8zM389 101h1v1h-1zM136 102h2v1h-2zM241 102h2v1h-2zM275 102h3v1h-3zM289 102h2v1h-2zM311 102h3v1h-3zM390 102h1v1h-1zM114 103h4v1h-4zM126 103h10v1h-10zM243 103h1v1h-1zM273 103h2v1h-2zM291 103h2v1h-2zM309 103h2v1h-2zM391 103h1v1h-1zM111 104h3v1h-3zM118 104h8v1h-8zM244 104h1v1h-1zM271 104h2v1h-2zM293 104h2v1h-2zM302 104h7v1h-7zM392 104h1v1h-1zM109 105h2v1h-2zM245 105h1v1h-1zM269 105h2v1h-2zM295 105h7v1h-7zM107 106h2v1h-2zM246 106h1v1h-1zM267 106h2v1h-2zM106 107h1v1h-1zM247 107h1v1h-1zM265 107h2v1h-2zM394 107h1v1h-1zM105 108h1v1h-1zM248 108h1v1h-1zM263 108h2v1h-2zM395 108h1v1h-1zM104 109h1v1h-1zM249 109h1v1h-1zM261 109h2v1h-2zM396 109h1v1h-1zM103 110h1v1h-1zM250 110h1v1h-1zM258 110h3v1h-3zM101 111h2v1h-2zM251 111h7v1h-7zM98 112h3v1h-3zM398 112h1v1h-1zM94 113h4v1h-4zM399 113h1v1h-1zM87 114h7v1h-7zM400 114h1v1h-1zM85 115h2v1h-2zM83 116h2v1h-2zM82 117h1v1h-1zM402 117h1v1h-1zM80 118h2v1h-2zM403 118h1v1h-1zM79 119h1v1h-1zM78 120h1v1h-1zM76 121h2v1h-2zM405 121h1v1h-1zM75 122h1v1h-1zM74 123h1v1h-1zM407 124h1v1h-1zM408 125h1v1h-1zM72 126h1v1h-1zM71 127h1v1h-1zM70 128h1v1h-1zM410 128h1v1h-1zM411 129h1v1h-1zM412 130h2v1h-2zM68 131h1v1h-1zM414 131h1v1h-1zM67 132h1v1h-1zM415 132h2v1h-2zM66 133h1v1h-1zM417 133h2v1h-2zM419 134h3v1h-3zM422 135h2v1h-2zM64 136h1v1h-1zM424 136h2v1h-2zM63 137h1v1h-1zM426 137h1v1h-1zM61 138h2v1h-2zM427 138h1v1h-1zM59 139h2v1h-2zM428 139h1v1h-1zM57 140h2v1h-2zM429 140h1v1h-1zM55 141h2v1h-2zM430 141h1v1h-1zM53 142h2v1h-2zM431 142h2v1h-2zM50 143h3v1h-3zM433 143h2v1h-2zM47 144h3v1h-3zM435 144h2v1h-2zM45 145h2v1h-2zM437 145h2v1h-2zM43 146h2v1h-2zM439 146h1v1h-1zM42 147h1v1h-1zM440 147h2v1h-2zM41 148h1v1h-1zM442 148h1v1h-1zM40 149h1v1h-1zM443 149h1v1h-1zM39 150h1v1h-1zM444 150h1v1h-1zM38 151h1v1h-1zM37 152h1v1h-1zM36 153h1v1h-1zM446 153h1v1h-1zM35 154h1v1h-1zM447 154h1v1h-1zM34 155h1v1h-1zM448 155h1v1h-1zM449 156h1v1h-1zM450 157h1v1h-1zM32 158h1v1h-1zM451 158h1v1h-1zM638 158h15v1h-15zM31 159h1v1h-1zM635 159h3v1h-3zM653 159h2v1h-2zM30 160h1v1h-1zM633 160h2v1h-2zM655 160h1v1h-1zM29 161h1v1h-1zM453 161h1v1h-1zM631 161h2v1h-2zM656 161h2v1h-2zM28 162h1v1h-1zM630 162h1v1h-1zM658 162h1v1h-1zM27 163h1v1h-1zM629 163h1v1h-1zM659 163h1v1h-1zM26 164h1v1h-1zM455 164h1v1h-1zM628 164h1v1h-1zM660 164h1v1h-1zM24 165h2v1h-2zM456 165h1v1h-1zM627 165h1v1h-1zM661 165h1v1h-1zM23 166h1v1h-1zM662 166h1v1h-1zM22 167h1v1h-1zM663 167h1v1h-1zM21 168h1v1h-1zM458 168h1v1h-1zM625 168h1v1h-1zM20 169h1v1h-1zM459 169h1v1h-1zM19 170h1v1h-1zM460 170h2v1h-2zM17 171h2v1h-2zM462 171h1v1h-1zM623 171h1v1h-1zM14 172h3v1h-3zM463 172h1v1h-1zM7 173h7v1h-7zM464 173h2v1h-2zM6 174h1v1h-1zM466 174h1v1h-1zM621 174h1v1h-1zM4 175h2v1h-2zM467 175h2v1h-2zM3 176h1v1h-1zM469 176h2v1h-2zM471 177h1v1h-1zM619 177h1v1h-1zM472 178h1v1h-1zM473 179h1v1h-1zM474 180h1v1h-1zM617 180h1v1h-1zM475 181h1v1h-1zM476 182h1v1h-1zM477 183h1v1h-1zM615 183h1v1h-1zM478 184h1v1h-1zM614 184h1v1h-1zM479 185h1v1h-1zM613 185h1v1h-1zM480 186h1v1h-1zM612 186h1v1h-1zM481 187h1v1h-1zM611 187h1v1h-1zM482 188h1v1h-1zM609 188h2v1h-2zM483 189h2v1h-2zM607 189h2v1h-2zM779 189h1v1h-1zM485 190h2v1h-2zM605 190h2v1h-2zM777 190h2v1h-2zM780 190h2v1h-2zM487 191h2v1h-2zM603 191h2v1h-2zM775 191h2v1h-2zM782 191h1v1h-1zM489 192h2v1h-2zM601 192h2v1h-2zM773 192h2v1h-2zM783 192h1v1h-1zM491 193h1v1h-1zM599 193h2v1h-2zM771 193h2v1h-2zM784 193h2v1h-2zM492 194h2v1h-2zM597 194h2v1h-2zM786 194h1v1h-1zM494 195h1v1h-1zM595 195h2v1h-2zM787 195h1v1h-1zM495 196h2v1h-2zM593 196h2v1h-2zM935 196h11v1h-11zM497 197h2v1h-2zM591 197h2v1h-2zM871 197h1v1h-1zM895 197h7v1h-7zM934 197h1v1h-1zM946 197h4v1h-4zM954 197h3v1h-3zM499 198h3v1h-3zM590 198h1v1h-1zM789 198h1v1h-1zM869 198h2v1h-2zM872 198h2v1h-2zM893 198h2v1h-2zM902 198h4v1h-4zM932 198h2v1h-2zM950 198h4v1h-4zM957 198h2v1h-2zM502 199h3v1h-3zM588 199h2v1h-2zM867 199h2v1h-2zM874 199h1v1h-1zM891 199h2v1h-2zM906 199h3v1h-3zM931 199h1v1h-1zM959 199h6v1h-6zM505 200h2v1h-2zM587 200h1v1h-1zM767 200h1v1h-1zM866 200h1v1h-1zM875 200h2v1h-2zM889 200h2v1h-2zM909 200h2v1h-2zM930 200h1v1h-1zM965 200h2v1h-2zM507 201h3v1h-3zM585 201h2v1h-2zM766 201h1v1h-1zM791 201h1v1h-1zM864 201h2v1h-2zM877 201h2v1h-2zM887 201h2v1h-2zM911 201h2v1h-2zM929 201h1v1h-1zM967 201h2v1h-2zM510 202h8v1h-8zM583 202h2v1h-2zM764 202h2v1h-2zM792 202h2v1h-2zM863 202h1v1h-1zM879 202h3v1h-3zM885 202h2v1h-2zM913 202h2v1h-2zM928 202h1v1h-1zM969 202h2v1h-2zM518 203h7v1h-7zM582 203h1v1h-1zM763 203h1v1h-1zM794 203h1v1h-1zM823 203h6v1h-6zM862 203h1v1h-1zM882 203h3v1h-3zM915 203h7v1h-7zM926 203h2v1h-2zM971 203h1v1h-1zM525 204h2v1h-2zM580 204h2v1h-2zM761 204h2v1h-2zM795 204h1v1h-1zM821 204h2v1h-2zM829 204h2v1h-2zM860 204h2v1h-2zM922 204h4v1h-4zM972 204h1v1h-1zM527 205h7v1h-7zM538 205h4v1h-4zM578 205h2v1h-2zM755 205h6v1h-6zM796 205h1v1h-1zM819 205h2v1h-2zM831 205h1v1h-1zM859 205h1v1h-1zM973 205h1v1h-1zM534 206h4v1h-4zM542 206h3v1h-3zM554 206h16v1h-16zM574 206h4v1h-4zM754 206h1v1h-1zM817 206h2v1h-2zM832 206h2v1h-2zM858 206h1v1h-1zM974 206h1v1h-1zM545 207h2v1h-2zM550 207h4v1h-4zM570 207h4v1h-4zM815 207h2v1h-2zM834 207h1v1h-1zM857 207h1v1h-1zM975 207h1v1h-1zM547 208h3v1h-3zM798 208h1v1h-1zM814 208h1v1h-1zM835 208h1v1h-1zM856 208h1v1h-1zM976 208h2v1h-2zM752 209h1v1h-1zM799 209h1v1h-1zM812 209h2v1h-2zM836 209h2v1h-2zM855 209h1v1h-1zM978 209h1v1h-1zM800 210h1v1h-1zM811 210h1v1h-1zM838 210h1v1h-1zM853 210h2v1h-2zM979 210h1v1h-1zM801 211h1v1h-1zM810 211h1v1h-1zM839 211h2v1h-2zM850 211h3v1h-3zM980 211h2v1h-2zM802 212h1v1h-1zM808 212h2v1h-2zM841 212h2v1h-2zM846 212h4v1h-4zM982 212h1v1h-1zM803 213h5v1h-5zM843 213h3v1h-3zM983 213h1v1h-1zM984 214h2v1h-2zM986 215h1v1h-1zM987 216h1v1h-1zM989 219h1v1h-1zM991 222h5v1h-5zM996 223h2v1h-2zM998 224h1v1h-1zM999 225h1v1h-1zM1000 226h1v1h-1zM1002 229h1v1h-1zM1017 259h1v1h-1zM1019 262h1v1h-1zM1020 263h2v1h-2zM1022 264h1v1h-1zM1023 265h1v1h-1zM1024 266h1v1h-1zM1025 267h1v1h-1zM1026 268h1v1h-1zM1027 269h1v1h-1zM1028 270h1v1h-1zM1029 271h1v1h-1zM1030 272h1v1h-1zM1031 273h1v1h-1zM1032 274h1v1h-1zM1033 275h1v1h-1zM1034 276h1v1h-1zM1035 277h1v1h-1zM1036 278h1v1h-1zM1037 279h1v1h-1zM1038 280h1v1h-1zM1039 281h1v1h-1zM1040 282h2v1h-2zM1042 283h1v1h-1zM1043 284h3v1h-3zM1046 285h2v1h-2zM1048 286h1v1h-1zM1050 289h1v1h-1zM1051 290h1v1h-1zM707 291h1v1h-1zM708 292h1v1h-1zM1053 293h1v1h-1zM710 295h1v1h-1zM1071 295h3v1h-3zM711 296h1v1h-1zM1055 296h1v1h-1zM1070 296h1v1h-1zM1074 296h3v1h-3zM1056 297h2v1h-2zM1068 297h2v1h-2zM1077 297h2v1h-2zM1058 298h1v1h-1zM1066 298h2v1h-2zM1079 298h2v1h-2zM1059 299h7v1h-7zM1081 299h2v1h-2zM722 300h1v1h-1zM1083 300h3v1h-3zM721 301h1v1h-1zM1086 301h3v1h-3zM720 302h1v1h-1zM1089 302h2v1h-2zM715 303h5v1h-5zM1091 303h2v1h-2zM1093 304h2v1h-2zM1095 305h1v1h-1zM1096 306h1v1h-1zM1097 307h1v1h-1zM1098 308h1v1h-1zM1099 309h1v1h-1zM1100 310h2v1h-2zM1102 311h1v1h-1zM1103 312h1v1h-1zM1104 313h2v1h-2zM1106 314h1v1h-1zM1107 315h2v1h-2zM1109 316h2v1h-2zM1111 317h2v1h-2zM1113 318h2v1h-2zM1115 319h1v1h-1zM1116 320h2v1h-2zM1118 321h1v1h-1zM1119 322h2v1h-2zM1121 323h2v1h-2zM1123 324h1v1h-1zM1124 325h2v1h-2zM1126 326h1v1h-1zM1127 327h2v1h-2zM1129 328h2v1h-2zM1131 329h3v1h-3zM1134 330h3v1h-3zM1137 331h2v1h-2zM1139 332h1v1h-1zM1140 333h2v1h-2zM1142 334h1v1h-1zM1143 335h2v1h-2zM1145 336h2v1h-2zM1147 337h1v1h-1zM1148 338h2v1h-2zM1150 339h1v1h-1zM1151 340h1v1h-1zM1152 341h1v1h-1zM1153 342h1v1h-1zM1154 343h1v1h-1zM1155 344h1v1h-1zM1157 347h1v1h-1zM1159 350h1v1h-1zM1160 351h1v1h-1zM1162 354h1v1h-1zM1163 355h1v1h-1zM1165 358h1v1h-1zM1167 361h1v1h-1zM1169 364h1v1h-1zM1193 416h1v1h-1zM1207 446h1v1h-1zM1208 447h1v1h-1zM1209 448h1v1h-1zM1210 449h1v1h-1zM1211 450h1v1h-1zM1212 451h1v1h-1zM1213 452h1v1h-1zM1214 453h1v1h-1zM1215 454h2v1h-2zM1217 455h2v1h-2zM1219 456h2v1h-2zM1221 457h2v1h-2zM1223 458h1v1h-1zM1224 459h2v1h-2zM1226 460h1v1h-1zM1227 461h1v1h-1zM1228 462h2v1h-2zM1230 463h1v1h-1zM1231 464h2v1h-2zM1233 465h2v1h-2zM1235 466h6v1h-6zM1241 467h2v1h-2zM1243 468h1v1h-1zM1244 469h1v1h-1zM1245 470h1v1h-1zM1246 471h1v1h-1zM1247 472h2v1h-2zM1249 473h2v1h-2zM1262 473h4v1h-4zM1251 474h1v1h-1zM1259 474h3v1h-3zM1266 474h2v1h-2zM1252 475h2v1h-2zM1258 475h1v1h-1zM1254 476h1v1h-1zM1256 476h2v1h-2zM1255 477h1v1h-1z" fill="#ff0000"/>
<path d="M9 154h1v2h-1zM13 159h1v2h-1zM27 165h1v2h-1zM28 163h1v2h-1zM29 160h1v3h-1zM30 158h1v2h-1zM31 155h1v3h-1zM32 151h1v4h-1zM33 148h1v3h-1zM34 144h1v4h-1zM35 141h1v3h-1zM36 138h1v3h-1zM37 135h1v3h-1zM38 132h1v3h-1zM39 129h1v3h-1zM40 127h1v2h-1zM41 125h1v2h-1zM42 123h1v2h-1zM44 120h1v2h-1zM46 117h1v2h-1zM67 123h1v2h-1zM68 121h1v2h-1zM69 119h1v2h-1zM70 117h1v2h-1zM72 114h1v2h-1zM74 111h1v2h-1zM96 104h1v2h-1zM98 101h1v2h-1zM116 99h1v2h-1zM117 101h1v2h-1zM118 103h1v2h-1zM135 105h1v2h-1zM136 103h1v2h-1zM137 100h1v3h-1zM138 98h1v2h-1zM139 96h1v2h-1zM145 91h1v2h-1zM149 86h1v2h-1zM195 77h1v2h-1zM196 79h1v2h-1zM197 81h1v2h-1zM198 83h1v2h-1zM199 85h1v3h-1zM200 88h1v3h-1zM201 91h1v2h-1zM202 93h1v3h-1zM203 96h1v3h-1zM204 99h1v3h-1zM205 102h1v2h-1zM206 104h1v3h-1zM207 107h1v3h-1zM208 110h1v3h-1zM209 113h1v2h-1zM210 115h1v3h-1zM211 118h1v2h-1zM212 120h1v2h-1zM213 122h1v2h-1zM214 124h1v2h-1zM220 120h1v2h-1zM222 117h1v2h-1zM223 115h1v2h-1zM224 113h1v2h-1zM225 111h1v2h-1zM226 109h1v2h-1zM227 106h1v3h-1zM228 104h1v2h-1zM229 102h1v2h-1zM230 100h1v2h-1zM232 97h1v2h-1zM234 94h1v2h-1zM243 91h1v2h-1zM244 93h1v2h-1zM245 95h1v2h-1zM246 97h1v2h-1zM247 99h1v2h-1zM248 101h1v2h-1zM249 103h1v2h-1zM250 105h1v2h-1zM251 107h1v2h-1zM252 109h1v2h-1zM253 111h1v3h-1zM254 114h1v2h-1zM255 116h1v2h-1zM256 118h1v2h-1zM257 120h1v2h-1zM258 122h1v2h-1zM265 119h1v2h-1zM267 116h1v2h-1zM268 114h1v2h-1zM269 112h1v2h-1zM270 110h1v2h-1zM271 107h1v3h-1zM272 105h1v2h-1zM273 102h1v3h-1zM274 100h1v2h-1zM275 97h1v3h-1zM276 95h1v2h-1zM277 92h1v3h-1zM278 90h1v2h-1zM279 88h1v2h-1zM289 86h1v2h-1zM291 89h1v2h-1zM292 91h1v2h-1zM293 93h1v2h-1zM294 95h1v2h-1zM295 97h1v2h-1zM296 99h1v2h-1zM297 101h1v2h-1zM298 103h1v2h-1zM304 110h1v2h-1zM306 113h1v2h-1zM321 106h1v2h-1zM323 103h1v2h-1zM324 101h1v2h-1zM325 98h1v3h-1zM326 96h1v2h-1zM327 94h1v2h-1zM328 92h1v2h-1zM330 89h1v2h-1zM332 86h1v2h-1zM334 83h1v2h-1zM335 81h1v2h-1zM336 79h1v2h-1zM337 77h1v2h-1zM338 75h1v2h-1zM352 68h1v2h-1zM354 71h1v2h-1zM355 73h1v2h-1zM356 75h1v3h-1zM357 78h1v3h-1zM358 81h1v3h-1zM359 84h1v3h-1zM360 87h1v2h-1zM361 89h1v2h-1zM362 91h1v2h-1zM363 93h1v3h-1zM364 96h1v2h-1zM365 98h1v3h-1zM366 101h1v2h-1zM367 103h1v3h-1zM368 106h1v2h-1zM369 108h1v2h-1zM370 110h1v2h-1zM371 112h1v2h-1zM392 122h1v2h-1zM393 124h1v2h-1zM394 126h1v2h-1zM404 134h1v2h-1zM406 137h1v2h-1zM408 140h1v2h-1zM409 142h1v2h-1zM410 144h1v2h-1zM440 151h1v2h-1zM441 153h1v2h-1zM442 155h1v2h-1zM443 157h1v2h-1zM444 159h1v2h-1zM445 161h1v2h-1zM446 163h1v2h-1zM447 165h1v2h-1zM448 167h1v2h-1zM449 169h1v3h-1zM450 172h1v2h-1zM451 174h1v3h-1zM452 177h1v2h-1zM453 179h1v3h-1zM454 182h1v2h-1zM455 184h1v3h-1zM456 187h1v3h-1zM457 190h1v4h-1zM458 194h1v3h-1zM459 197h1v2h-1zM461 200h1v2h-1zM504 196h1v2h-1zM505 198h1v2h-1zM506 200h1v2h-1zM507 202h1v2h-1zM508 204h1v2h-1zM509 206h1v2h-1zM510 208h1v2h-1zM511 210h1v2h-1zM529 211h1v2h-1zM553 195h1v2h-1zM560 196h1v2h-1zM562 199h1v2h-1zM564 202h1v2h-1zM566 205h1v2h-1zM568 208h1v2h-1zM569 210h1v2h-1zM570 212h1v2h-1zM573 216h1v2h-1zM577 216h1v2h-1zM579 213h1v2h-1zM580 211h1v2h-1zM581 208h1v3h-1zM582 206h1v2h-1zM583 203h1v3h-1zM584 200h1v3h-1zM585 197h1v3h-1zM586 194h1v3h-1zM587 191h1v3h-1zM588 189h1v2h-1zM589 186h1v3h-1zM590 184h1v2h-1zM591 182h1v2h-1zM592 180h1v2h-1zM593 178h1v2h-1zM594 176h1v2h-1zM613 161h1v2h-1zM625 148h1v2h-1zM644 157h1v2h-1zM646 160h1v2h-1zM649 164h1v2h-1zM652 168h1v2h-1zM653 170h1v2h-1zM654 172h1v2h-1zM655 174h1v2h-1zM656 176h1v2h-1zM657 178h1v2h-1zM658 180h1v2h-1zM659 182h1v3h-1zM660 185h1v3h-1zM661 188h1v2h-1zM662 190h1v3h-1zM663 193h1v3h-1zM664 196h1v4h-1zM665 200h1v4h-1zM666 204h1v4h-1zM667 208h1v4h-1zM668 212h1v5h-1zM669 217h1v6h-1zM670 223h1v5h-1zM671 228h1v4h-1zM672 232h1v3h-1zM673 235h1v4h-1zM674 239h1v3h-1zM675 242h1v4h-1zM676 246h1v4h-1zM677 250h1v4h-1zM678 254h1v4h-1zM679 258h1v6h-1zM680 264h1v6h-1zM681 270h1v7h-1zM682 277h1v6h-1zM683 283h1v6h-1zM684 289h1v5h-1zM685 294h1v6h-1zM686 300h1v5h-1zM687 305h1v6h-1zM688 311h1v6h-1zM689 317h1v6h-1zM690 323h1v6h-1zM691 329h1v5h-1zM692 334h1v5h-1zM693 339h1v5h-1zM694 344h1v5h-1zM695 349h1v4h-1zM696 353h1v3h-1zM697 356h1v3h-1zM698 359h1v3h-1zM699 361h1v3h-1zM700 357h1v4h-1zM701 353h1v4h-1zM702 349h1v4h-1zM703 345h1v4h-1zM704 341h1v4h-1zM705 337h1v4h-1zM706 333h1v4h-1zM707 329h1v4h-1zM708 323h1v6h-1zM709 317h1v6h-1zM710 311h1v6h-1zM711 307h1v4h-1zM712 304h1v3h-1zM713 300h1v4h-1zM714 297h1v3h-1zM715 292h1v5h-1zM716 286h1v6h-1zM717 280h1v6h-1zM718 274h1v6h-1zM719 268h1v6h-1zM720 264h1v4h-1zM721 260h1v4h-1zM722 256h1v4h-1zM723 250h1v6h-1zM724 243h1v7h-1zM725 236h1v7h-1zM726 229h1v7h-1zM727 222h1v7h-1zM728 215h1v7h-1zM729 207h1v8h-1zM730 200h1v7h-1zM731 192h1v8h-1zM732 182h1v10h-1zM733 172h1v10h-1zM734 162h1v10h-1zM735 155h1v7h-1zM736 151h1v4h-1zM737 147h1v4h-1zM738 143h1v4h-1zM739 140h1v3h-1zM740 138h1v2h-1zM741 136h1v2h-1zM742 134h1v2h-1zM744 134h1v2h-1zM746 137h1v2h-1zM747 139h1v3h-1zM748 142h1v5h-1zM749 147h1v6h-1zM750 153h1v5h-1zM751 158h1v6h-1zM752 164h1v8h-1zM753 172h1v7h-1zM754 179h1v8h-1zM755 187h1v7h-1zM756 194h1v7h-1zM757 201h1v7h-1zM758 208h1v7h-1zM759 215h1v6h-1zM760 221h1v4h-1zM761 225h1v5h-1zM762 230h1v4h-1zM763 234h1v4h-1zM764 238h1v4h-1zM765 242h1v3h-1zM766 245h1v4h-1zM767 249h1v2h-1zM771 246h1v2h-1zM772 242h1v4h-1zM773 238h1v4h-1zM774 234h1v4h-1zM775 230h1v4h-1zM776 224h1v6h-1zM777 218h1v6h-1zM778 212h1v6h-1zM779 208h1v4h-1zM780 204h1v4h-1zM781 200h1v4h-1zM782 196h1v4h-1zM783 193h1v3h-1zM784 190h1v3h-1zM785 186h1v4h-1zM786 183h1v3h-1zM787 181h1v2h-1zM795 179h1v2h-1zM796 181h1v2h-1zM797 183h1v3h-1zM798 186h1v2h-1zM799 188h1v3h-1zM800 191h1v3h-1zM801 194h1v2h-1zM802 196h1v3h-1zM803 199h1v3h-1zM804 202h1v3h-1zM805 205h1v2h-1zM806 207h1v3h-1zM807 210h1v2h-1zM811 215h1v2h-1zM812 217h1v2h-1zM813 219h1v3h-1zM814 222h1v2h-1zM815 224h1v2h-1zM832 216h1v2h-1zM834 213h1v2h-1zM844 208h1v2h-1zM845 206h1v2h-1zM846 204h1v2h-1zM848 201h1v2h-1zM849 199h1v2h-1zM850 197h1v2h-1zM852 194h1v2h-1zM853 192h1v2h-1zM854 190h1v2h-1zM856 187h1v2h-1zM858 184h1v2h-1zM867 178h1v2h-1zM868 180h1v2h-1zM869 182h1v2h-1zM870 184h1v2h-1zM871 186h1v2h-1zM872 188h1v4h-1zM873 192h1v3h-1zM874 195h1v4h-1zM875 199h1v3h-1zM876 202h1v3h-1zM877 205h1v3h-1zM878 208h1v3h-1zM879 211h1v3h-1zM880 214h1v2h-1zM881 216h1v2h-1zM882 218h1v2h-1zM883 220h1v2h-1zM888 222h1v2h-1zM889 220h1v2h-1zM890 218h1v2h-1zM891 216h1v2h-1zM892 212h1v4h-1zM893 209h1v3h-1zM894 205h1v4h-1zM895 203h1v2h-1zM896 201h1v2h-1zM897 199h1v2h-1zM898 197h1v2h-1zM900 194h1v2h-1zM902 191h1v2h-1zM908 191h1v2h-1zM909 193h1v2h-1zM910 195h1v2h-1zM936 193h1v2h-1zM937 195h1v2h-1zM938 197h1v2h-1zM964 201h1v2h-1zM965 203h1v2h-1zM966 205h1v2h-1zM967 207h1v2h-1zM968 209h1v2h-1zM969 211h1v3h-1zM970 214h1v2h-1zM971 216h1v3h-1zM972 219h1v2h-1zM973 221h1v2h-1zM974 223h1v2h-1zM980 230h1v2h-1zM981 232h1v2h-1zM982 234h1v2h-1zM989 240h1v2h-1zM1001 245h1v2h-1zM1003 248h1v2h-1zM1004 250h1v3h-1zM1005 253h1v3h-1zM1006 256h1v3h-1zM1007 259h1v3h-1zM1008 262h1v3h-1zM1009 265h1v2h-1zM1010 267h1v3h-1zM1011 270h1v4h-1zM1012 274h1v6h-1zM1013 280h1v5h-1zM1014 285h1v6h-1zM1015 291h1v4h-1zM1016 295h1v2h-1zM1017 297h1v3h-1zM1018 300h1v2h-1zM1019 302h1v2h-1zM1031 298h1v2h-1zM1032 295h1v3h-1zM1033 292h1v3h-1zM1034 289h1v3h-1zM1035 287h1v2h-1zM1052 291h1v2h-1zM1053 293h1v2h-1zM1054 295h1v2h-1zM1072 305h1v2h-1zM1074 302h1v2h-1zM1093 311h1v2h-1zM1097 316h1v2h-1zM1104 324h1v2h-1zM1105 326h1v2h-1zM1106 328h1v2h-1zM1109 332h1v2h-1zM1113 337h1v2h-1zM1147 337h1v2h-1zM1148 339h1v2h-1zM1149 341h1v2h-1zM1150 343h1v2h-1zM1151 345h1v3h-1zM1152 348h1v3h-1zM1153 351h1v4h-1zM1154 355h1v3h-1zM1155 358h1v3h-1zM1156 361h1v3h-1zM1157 364h1v4h-1zM1158 368h1v3h-1zM1159 371h1v3h-1zM1160 374h1v4h-1zM1161 378h1v4h-1zM1162 382h1v4h-1zM1163 386h1v3h-1zM1164 389h1v4h-1zM1165 393h1v4h-1zM1166 397h1v4h-1zM1167 401h1v3h-1zM1168 404h1v3h-1zM1169 407h1v4h-1zM1170 411h1v3h-1zM1171 414h1v3h-1zM1172 417h1v2h-1zM1173 419h1v3h-1zM1174 422h1v2h-1zM1175 424h1v3h-1zM1176 427h1v2h-1zM1177 429h1v3h-1zM1178 432h1v2h-1zM1179 434h1v3h-1zM1180 437h1v2h-1zM1181 439h1v3h-1zM1182 442h1v2h-1zM1183 444h1v3h-1zM1184 447h1v2h-1zM1185 449h1v3h-1zM1186 452h1v2h-1zM1187 454h1v2h-1zM1189 457h1v2h-1zM1200 458h1v2h-1zM1202 461h1v2h-1zM1213 467h1v2h-1zM1219 469h1v2h-1zM1220 467h1v2h-1zM1221 464h1v3h-1zM1222 462h1v2h-1zM1223 460h1v2h-1zM1236 468h1v2h-1zM1238 471h1v2h-1zM1239 473h1v2h-1zM1240 475h1v2h-1zM1241 477h1v2h-1zM1242 479h1v2h-1zM1243 481h1v3h-1zM1244 484h1v2h-1zM1245 486h1v2h-1zM1246 488h1v2h-1zM1260 483h1v2h-1zM1262 480h1v2h-1zM1263 478h1v2h-1zM1264 476h1v2h-1zM1265 474h1v2h-1zM1266 472h1v2h-1zM1267 470h1v2h-1zM351 67h1v1h-1zM350 68h1v1h-1zM348 69h2v1h-2zM347 70h1v1h-1zM353 70h1v1h-1zM345 71h2v1h-2zM343 72h2v1h-2zM341 73h2v1h-2zM339 74h2v1h-2zM194 77h1v1h-1zM191 78h3v1h-3zM190 79h1v1h-1zM155 80h1v1h-1zM188 80h2v1h-2zM154 81h1v1h-1zM156 81h2v1h-2zM187 81h1v1h-1zM153 82h1v1h-1zM158 82h1v1h-1zM162 82h2v1h-2zM185 82h2v1h-2zM152 83h1v1h-1zM159 83h3v1h-3zM164 83h2v1h-2zM183 83h2v1h-2zM151 84h1v1h-1zM166 84h1v1h-1zM182 84h1v1h-1zM287 84h1v1h-1zM150 85h1v1h-1zM167 85h2v1h-2zM180 85h2v1h-2zM285 85h2v1h-2zM288 85h1v1h-1zM333 85h1v1h-1zM169 86h2v1h-2zM179 86h1v1h-1zM283 86h2v1h-2zM171 87h3v1h-3zM177 87h2v1h-2zM281 87h2v1h-2zM148 88h1v1h-1zM174 88h3v1h-3zM280 88h1v1h-1zM290 88h1v1h-1zM331 88h1v1h-1zM147 89h1v1h-1zM146 90h1v1h-1zM239 90h3v1h-3zM238 91h1v1h-1zM242 91h1v1h-1zM329 91h1v1h-1zM236 92h2v1h-2zM144 93h1v1h-1zM235 93h1v1h-1zM143 94h1v1h-1zM141 95h2v1h-2zM107 96h6v1h-6zM140 96h1v1h-1zM233 96h1v1h-1zM105 97h2v1h-2zM113 97h2v1h-2zM103 98h2v1h-2zM115 98h1v1h-1zM101 99h2v1h-2zM231 99h1v1h-1zM99 100h2v1h-2zM97 103h1v1h-1zM119 105h2v1h-2zM299 105h1v1h-1zM322 105h1v1h-1zM83 106h3v1h-3zM90 106h6v1h-6zM121 106h2v1h-2zM134 106h1v1h-1zM300 106h1v1h-1zM81 107h2v1h-2zM86 107h4v1h-4zM123 107h11v1h-11zM301 107h1v1h-1zM79 108h2v1h-2zM302 108h1v1h-1zM320 108h1v1h-1zM77 109h2v1h-2zM303 109h1v1h-1zM319 109h1v1h-1zM75 110h2v1h-2zM317 110h2v1h-2zM315 111h2v1h-2zM305 112h1v1h-1zM314 112h1v1h-1zM73 113h1v1h-1zM313 113h1v1h-1zM372 113h1v1h-1zM312 114h1v1h-1zM373 114h2v1h-2zM378 114h3v1h-3zM307 115h5v1h-5zM375 115h3v1h-3zM381 115h2v1h-2zM47 116h1v1h-1zM71 116h1v1h-1zM383 116h2v1h-2zM48 117h2v1h-2zM385 117h2v1h-2zM50 118h1v1h-1zM266 118h1v1h-1zM387 118h1v1h-1zM45 119h1v1h-1zM51 119h1v1h-1zM221 119h1v1h-1zM388 119h2v1h-2zM52 120h2v1h-2zM390 120h1v1h-1zM54 121h1v1h-1zM264 121h1v1h-1zM391 121h1v1h-1zM43 122h1v1h-1zM55 122h1v1h-1zM219 122h1v1h-1zM263 122h1v1h-1zM56 123h2v1h-2zM218 123h1v1h-1zM261 123h2v1h-2zM58 124h1v1h-1zM217 124h1v1h-1zM259 124h2v1h-2zM59 125h1v1h-1zM66 125h1v1h-1zM216 125h1v1h-1zM60 126h2v1h-2zM65 126h1v1h-1zM215 126h1v1h-1zM62 127h1v1h-1zM64 127h1v1h-1zM63 128h1v1h-1zM395 128h1v1h-1zM396 129h1v1h-1zM397 130h1v1h-1zM398 131h1v1h-1zM399 132h3v1h-3zM402 133h2v1h-2zM743 133h1v1h-1zM405 136h1v1h-1zM745 136h1v1h-1zM407 139h1v1h-1zM411 146h1v1h-1zM627 146h5v1h-5zM412 147h1v1h-1zM626 147h1v1h-1zM632 147h2v1h-2zM413 148h1v1h-1zM634 148h1v1h-1zM414 149h1v1h-1zM635 149h1v1h-1zM415 150h2v1h-2zM434 150h6v1h-6zM624 150h1v1h-1zM636 150h1v1h-1zM417 151h2v1h-2zM427 151h7v1h-7zM623 151h1v1h-1zM637 151h1v1h-1zM7 152h1v1h-1zM419 152h2v1h-2zM426 152h1v1h-1zM622 152h1v1h-1zM638 152h1v1h-1zM6 153h1v1h-1zM8 153h1v1h-1zM421 153h2v1h-2zM424 153h2v1h-2zM621 153h1v1h-1zM639 153h1v1h-1zM5 154h1v1h-1zM423 154h1v1h-1zM620 154h1v1h-1zM640 154h2v1h-2zM4 155h1v1h-1zM619 155h1v1h-1zM642 155h1v1h-1zM3 156h1v1h-1zM10 156h1v1h-1zM618 156h1v1h-1zM643 156h1v1h-1zM11 157h1v1h-1zM617 157h1v1h-1zM12 158h1v1h-1zM616 158h1v1h-1zM615 159h1v1h-1zM645 159h1v1h-1zM614 160h1v1h-1zM14 161h1v1h-1zM15 162h3v1h-3zM647 162h1v1h-1zM18 163h6v1h-6zM612 163h1v1h-1zM648 163h1v1h-1zM24 164h2v1h-2zM611 164h1v1h-1zM26 165h1v1h-1zM610 165h1v1h-1zM609 166h1v1h-1zM650 166h1v1h-1zM608 167h1v1h-1zM651 167h1v1h-1zM607 168h1v1h-1zM605 169h2v1h-2zM602 170h3v1h-3zM599 171h3v1h-3zM598 172h1v1h-1zM597 173h1v1h-1zM596 174h1v1h-1zM595 175h1v1h-1zM791 178h3v1h-3zM790 179h1v1h-1zM794 179h1v1h-1zM865 179h2v1h-2zM788 180h2v1h-2zM863 180h2v1h-2zM862 181h1v1h-1zM860 182h2v1h-2zM859 183h1v1h-1zM857 186h1v1h-1zM855 189h1v1h-1zM903 190h5v1h-5zM495 191h2v1h-2zM494 192h1v1h-1zM497 192h2v1h-2zM935 192h1v1h-1zM493 193h1v1h-1zM499 193h2v1h-2zM555 193h2v1h-2zM901 193h1v1h-1zM933 193h2v1h-2zM492 194h1v1h-1zM501 194h2v1h-2zM554 194h1v1h-1zM557 194h2v1h-2zM931 194h2v1h-2zM490 195h2v1h-2zM503 195h1v1h-1zM559 195h1v1h-1zM929 195h2v1h-2zM487 196h3v1h-3zM851 196h1v1h-1zM899 196h1v1h-1zM922 196h7v1h-7zM485 197h2v1h-2zM552 197h1v1h-1zM911 197h1v1h-1zM919 197h3v1h-3zM479 198h6v1h-6zM551 198h1v1h-1zM561 198h1v1h-1zM912 198h2v1h-2zM918 198h1v1h-1zM460 199h1v1h-1zM478 199h1v1h-1zM550 199h1v1h-1zM914 199h1v1h-1zM916 199h2v1h-2zM939 199h2v1h-2zM951 199h3v1h-3zM958 199h4v1h-4zM477 200h1v1h-1zM549 200h1v1h-1zM915 200h1v1h-1zM941 200h2v1h-2zM949 200h2v1h-2zM954 200h4v1h-4zM962 200h2v1h-2zM476 201h1v1h-1zM548 201h1v1h-1zM563 201h1v1h-1zM943 201h6v1h-6zM462 202h1v1h-1zM471 202h5v1h-5zM547 202h1v1h-1zM463 203h2v1h-2zM470 203h1v1h-1zM545 203h2v1h-2zM847 203h1v1h-1zM465 204h2v1h-2zM468 204h2v1h-2zM539 204h6v1h-6zM565 204h1v1h-1zM467 205h1v1h-1zM538 205h1v1h-1zM537 206h1v1h-1zM536 207h1v1h-1zM567 207h1v1h-1zM534 208h2v1h-2zM531 209h3v1h-3zM530 210h1v1h-1zM843 210h1v1h-1zM841 211h2v1h-2zM512 212h1v1h-1zM808 212h1v1h-1zM835 212h6v1h-6zM513 213h1v1h-1zM528 213h1v1h-1zM809 213h1v1h-1zM514 214h1v1h-1zM527 214h1v1h-1zM571 214h1v1h-1zM810 214h1v1h-1zM515 215h1v1h-1zM526 215h1v1h-1zM572 215h1v1h-1zM578 215h1v1h-1zM833 215h1v1h-1zM516 216h2v1h-2zM524 216h2v1h-2zM518 217h1v1h-1zM522 217h2v1h-2zM519 218h3v1h-3zM574 218h1v1h-1zM576 218h1v1h-1zM830 218h2v1h-2zM575 219h1v1h-1zM826 219h4v1h-4zM823 220h3v1h-3zM822 221h1v1h-1zM821 222h1v1h-1zM884 222h2v1h-2zM820 223h1v1h-1zM886 223h1v1h-1zM818 224h2v1h-2zM887 224h1v1h-1zM816 225h2v1h-2zM975 225h1v1h-1zM976 226h1v1h-1zM977 227h1v1h-1zM978 228h1v1h-1zM979 229h1v1h-1zM983 236h2v1h-2zM985 237h2v1h-2zM987 238h1v1h-1zM988 239h1v1h-1zM990 242h1v1h-1zM994 242h4v1h-4zM991 243h3v1h-3zM998 243h2v1h-2zM1000 244h1v1h-1zM1002 247h1v1h-1zM770 248h1v1h-1zM768 249h2v1h-2zM1036 287h4v1h-4zM1040 288h2v1h-2zM1042 289h1v1h-1zM1046 289h4v1h-4zM1043 290h3v1h-3zM1050 290h2v1h-2zM1055 297h1v1h-1zM1056 298h1v1h-1zM1057 299h1v1h-1zM1030 300h1v1h-1zM1058 300h1v1h-1zM1029 301h1v1h-1zM1059 301h1v1h-1zM1075 301h3v1h-3zM1028 302h1v1h-1zM1060 302h2v1h-2zM1078 302h2v1h-2zM1020 303h1v1h-1zM1027 303h1v1h-1zM1062 303h1v1h-1zM1080 303h2v1h-2zM1021 304h2v1h-2zM1025 304h2v1h-2zM1063 304h1v1h-1zM1073 304h1v1h-1zM1082 304h1v1h-1zM1023 305h2v1h-2zM1064 305h2v1h-2zM1083 305h2v1h-2zM1066 306h1v1h-1zM1085 306h2v1h-2zM1067 307h5v1h-5zM1087 307h2v1h-2zM1089 308h2v1h-2zM1091 309h1v1h-1zM1092 310h1v1h-1zM1094 313h1v1h-1zM1095 314h1v1h-1zM1096 315h1v1h-1zM1098 318h1v1h-1zM1099 319h1v1h-1zM1100 320h1v1h-1zM1101 321h1v1h-1zM1102 322h1v1h-1zM1103 323h1v1h-1zM1107 330h1v1h-1zM1108 331h1v1h-1zM1135 332h1v1h-1zM1134 333h1v1h-1zM1136 333h2v1h-2zM1110 334h1v1h-1zM1132 334h2v1h-2zM1138 334h1v1h-1zM1111 335h1v1h-1zM1131 335h1v1h-1zM1139 335h2v1h-2zM1112 336h1v1h-1zM1130 336h1v1h-1zM1141 336h2v1h-2zM1129 337h1v1h-1zM1143 337h4v1h-4zM1128 338h1v1h-1zM1114 339h1v1h-1zM1126 339h2v1h-2zM1115 340h11v1h-11zM1188 456h1v1h-1zM1198 457h2v1h-2zM1195 458h3v1h-3zM1190 459h1v1h-1zM1193 459h2v1h-2zM1226 459h2v1h-2zM1191 460h2v1h-2zM1201 460h1v1h-1zM1224 460h2v1h-2zM1228 460h1v1h-1zM1229 461h1v1h-1zM1230 462h1v1h-1zM1203 463h3v1h-3zM1231 463h1v1h-1zM1206 464h4v1h-4zM1232 464h1v1h-1zM1210 465h2v1h-2zM1233 465h1v1h-1zM1212 466h1v1h-1zM1234 466h1v1h-1zM1235 467h1v1h-1zM1214 469h1v1h-1zM1215 470h4v1h-4zM1237 470h1v1h-1zM1261 482h1v1h-1zM1259 485h1v1h-1zM1258 486h1v1h-1zM1256 487h2v1h-2zM1251 488h5v1h-5zM1249 489h2v1h-2zM1247 490h2v1h-2z" fill="#ffa500"/>
</g>
<rect x="2" y="26" width="1594" height="1" fill="#000"/>
<rect x="2" y="531" width="1594" height="1" fill="#000"/>
<rect x="2" y="26" width="1" height="506" fill="#000"/>
<rect x="1595" y="26" width="1" height="506" fill="#000"/>
<rect x="2" y="533" width="1594" height="1" fill="#000"/>
<rect x="2" y="625" width="1594" height="1" fill="#000"/>
<rect x="2" y="533" width="1" height="93" fill="#000"/>
<rect x="1595" y="533" width="1" height="93" fill="#000"/>
<rect x="2" y="627" width="1594" height="1" fill="#000"/>
<rect x="2" y="719" width="1594" height="1" fill="#000"/>
<rect x="2" y="627" width="1" height="93" fill="#000"/>
<rect x="1595" y="627" width="1" height="93" fill="#000"/>
<rect x="3" y="258" width="1592" height="2" fill="#ff0000"/>
<rect x="2" y="256" width="6" height="6" fill="#ff0000"/><rect x="4" y="258" width="2" height="2" fill="#fff"/>
<rect x="1589" y="256" width="6" height="6" fill="#ff0000"/><rect x="1591" y="258" width="2" height="2" fill="#fff"/>
<rect x="1597" y="253" width="41" height="11" fill="#ff0000"/>
<rect x="3" y="318" width="1592" height="2" fill="#ff0000"/>
<rect x="2" y="316" width="6" height="6" fill="#ff0000"/><rect x="4" y="318" width="2" height="2" fill="#fff"/>
<rect x="1589" y="316" width="6" height="6" fill="#ff0000"/><rect x="1591" y="318" width="2" height="2" fill="#fff"/>
<rect x="1597" y="313" width="41" height="11" fill="#ff0000"/>
<rect x="3" y="383" width="1592" height="2" fill="#00ff00"/>
<rect x="2" y="381" width="6" height="6" fill="#00ff00"/><rect x="4" y="383" width="2" height="2" fill="#fff"/>
<rect x="1589" y="381" width="6" height="6" fill="#00ff00"/><rect x="1591" y="383" width="2" height="2" fill="#fff"/>
<rect x="1597" y="378" width="41" height="11" fill="#00ff00"/>
<rect x="3" y="443" width="1592" height="2" fill="#0000ff"/>
<rect x="2" y="441" width="6" height="6" fill="#0000ff"/><rect x="4" y="443" width="2" height="2" fill="#fff"/>
<rect x="1589" y="441" width="6" height="6" fill="#0000ff"/><rect x="1591" y="443" width="2" height="2" fill="#fff"/>
<rect x="1597" y="438" width="41" height="11" fill="#0000ff"/>
<rect x="3" y="521" width="1592" height="2" fill="#0000ff"/>
<rect x="2" y="519" width="6" height="6" fill="#0000ff"/><rect x="4" y="521" width="2" height="2" fill="#fff"/>
<rect x="1589" y="519" width="6" height="6" fill="#0000ff"/><rect x="1591" y="521" width="2" height="2" fill="#fff"/>
<rect x="1597" y="516" width="41" height="11" fill="#0000ff"/>
<rect x="1597" y="461" width="41" height="11" fill="#000"/>
<clipPath id="cr"><rect x="3" y="534" width="1592" height="91"/></clipPath><g clip-path="url(#cr)">
<line x1="3" x2="1595" y1="561.5" y2="561.5" stroke="#c0c0c0" stroke-width="1" stroke-dasharray="3 3"/>
<line x1="3" x2="1595" y1="597.5" y2="597.5" stroke="#c0c0c0" stroke-width="1" stroke-dasharray="3 3"/>
<path d="M7 577h1v2h-1zM8 579h1v2h-1zM9 581h1v2h-1zM10 583h1v2h-1zM17 583h1v2h-1zM29 576h1v2h-1zM48 575h1v2h-1zM49 577h1v2h-1zM50 579h1v2h-1zM52 579h1v2h-1zM54 576h1v2h-1zM76 570h1v2h-1zM78 573h1v2h-1zM121 578h1v2h-1zM135 575h1v2h-1zM136 573h1v2h-1zM137 571h1v2h-1zM138 569h1v2h-1zM140 569h1v2h-1zM141 571h1v2h-1zM142 573h1v2h-1zM145 572h1v2h-1zM195 574h1v3h-1zM196 577h1v4h-1zM197 581h1v4h-1zM198 585h1v4h-1zM199 589h1v2h-1zM213 586h1v2h-1zM240 577h1v2h-1zM242 580h1v2h-1zM244 583h1v2h-1zM246 586h1v2h-1zM259 586h1v2h-1zM260 584h1v2h-1zM261 581h1v3h-1zM262 579h1v2h-1zM263 577h1v2h-1zM280 570h1v2h-1zM282 573h1v2h-1zM287 576h1v2h-1zM288 578h1v2h-1zM289 580h1v2h-1zM290 582h1v2h-1zM313 579h1v2h-1zM319 579h1v2h-1zM320 577h1v2h-1zM321 575h1v2h-1zM322 573h1v2h-1zM351 568h1v2h-1zM352 570h1v4h-1zM353 574h1v3h-1zM354 577h1v4h-1zM355 581h1v3h-1zM356 584h1v2h-1zM357 586h1v2h-1zM358 588h1v2h-1zM369 584h1v2h-1zM393 589h1v2h-1zM404 590h1v2h-1zM406 593h1v2h-1zM415 595h1v2h-1zM416 593h1v2h-1zM417 591h1v2h-1zM418 589h1v2h-1zM440 588h1v2h-1zM441 590h1v2h-1zM442 592h1v2h-1zM460 600h1v2h-1zM461 598h1v2h-1zM462 596h1v2h-1zM476 593h1v2h-1zM478 590h1v2h-1zM485 588h1v2h-1zM511 596h1v2h-1zM512 594h1v2h-1zM513 592h1v2h-1zM514 590h1v2h-1zM529 585h1v2h-1zM547 582h1v2h-1zM548 580h1v2h-1zM549 578h1v2h-1zM550 576h1v2h-1zM555 574h1v2h-1zM556 576h1v3h-1zM557 579h1v2h-1zM558 581h1v3h-1zM559 584h1v2h-1zM568 589h1v2h-1zM570 586h1v2h-1zM573 582h1v2h-1zM577 577h1v2h-1zM609 567h1v2h-1zM631 566h1v2h-1zM632 568h1v2h-1zM633 570h1v3h-1zM634 573h1v2h-1zM635 575h1v2h-1zM651 578h1v2h-1zM652 580h1v3h-1zM653 583h1v3h-1zM654 586h1v3h-1zM655 589h1v2h-1zM665 598h1v2h-1zM681 609h1v2h-1zM692 612h1v2h-1zM694 609h1v2h-1zM695 607h1v2h-1zM696 605h1v2h-1zM697 603h1v2h-1zM698 601h1v2h-1zM699 598h1v3h-1zM700 594h1v4h-1zM701 590h1v4h-1zM702 586h1v4h-1zM703 583h1v3h-1zM712 583h1v2h-1zM714 586h1v2h-1zM715 587h1v2h-1zM716 584h1v3h-1zM717 580h1v4h-1zM718 577h1v3h-1zM719 575h1v2h-1zM721 572h1v2h-1zM725 567h1v2h-1zM737 565h1v2h-1zM747 572h1v2h-1zM748 574h1v2h-1zM749 576h1v2h-1zM750 578h1v2h-1zM751 580h1v2h-1zM753 583h1v2h-1zM761 584h1v2h-1zM816 583h1v2h-1zM817 581h1v2h-1zM818 579h1v2h-1zM867 573h1v2h-1zM868 575h1v2h-1zM869 577h1v3h-1zM870 580h1v2h-1zM871 582h1v2h-1zM872 584h1v2h-1zM874 587h1v2h-1zM883 583h1v2h-1zM884 581h1v2h-1zM885 579h1v2h-1zM886 577h1v2h-1zM897 576h1v2h-1zM935 576h1v2h-1zM936 578h1v2h-1zM937 580h1v2h-1zM938 582h1v2h-1zM939 584h1v2h-1zM940 583h1v2h-1zM941 581h1v2h-1zM942 579h1v2h-1zM957 581h1v2h-1zM964 581h1v2h-1zM966 584h1v2h-1zM989 590h1v2h-1zM991 592h1v2h-1zM992 590h1v2h-1zM993 588h1v2h-1zM994 586h1v2h-1zM995 584h1v2h-1zM1004 590h1v2h-1zM1005 592h1v2h-1zM1006 594h1v2h-1zM1015 601h1v2h-1zM1016 597h1v4h-1zM1017 593h1v4h-1zM1018 589h1v4h-1zM1019 587h1v2h-1zM1073 584h1v2h-1zM1127 591h1v2h-1zM1128 589h1v2h-1zM1129 586h1v3h-1zM1130 584h1v2h-1zM1131 582h1v2h-1zM1137 585h1v2h-1zM1148 589h1v2h-1zM1150 592h1v2h-1zM1188 607h1v2h-1zM1189 605h1v2h-1zM1190 603h1v2h-1zM1191 601h1v2h-1zM1192 599h1v2h-1zM1193 596h1v3h-1zM1194 594h1v2h-1zM1195 592h1v2h-1zM1200 597h1v2h-1zM1202 600h1v2h-1zM1204 600h1v2h-1zM1205 598h1v2h-1zM1206 596h1v2h-1zM1209 592h1v2h-1zM1225 588h1v2h-1zM1247 596h1v2h-1zM1248 593h1v3h-1zM1249 590h1v3h-1zM1250 587h1v3h-1zM1251 585h1v2h-1zM1256 586h1v2h-1zM1258 583h1v2h-1zM734 563h2v1h-2zM627 564h2v1h-2zM730 564h4v1h-4zM736 564h1v1h-1zM611 565h11v1h-11zM625 565h2v1h-2zM629 565h2v1h-2zM727 565h3v1h-3zM610 566h1v1h-1zM622 566h3v1h-3zM726 566h1v1h-1zM738 567h1v1h-1zM99 568h1v1h-1zM139 568h1v1h-1zM338 568h4v1h-4zM346 568h5v1h-5zM739 568h3v1h-3zM75 569h1v1h-1zM98 569h1v1h-1zM100 569h1v1h-1zM279 569h1v1h-1zM335 569h3v1h-3zM342 569h4v1h-4zM608 569h1v1h-1zM724 569h1v1h-1zM742 569h2v1h-2zM35 570h9v1h-9zM74 570h1v1h-1zM96 570h2v1h-2zM101 570h1v1h-1zM147 570h3v1h-3zM191 570h1v1h-1zM277 570h2v1h-2zM327 570h3v1h-3zM333 570h2v1h-2zM607 570h1v1h-1zM723 570h1v1h-1zM744 570h2v1h-2zM34 571h1v1h-1zM44 571h1v1h-1zM67 571h3v1h-3zM72 571h2v1h-2zM94 571h2v1h-2zM102 571h1v1h-1zM146 571h1v1h-1zM150 571h4v1h-4zM182 571h4v1h-4zM189 571h2v1h-2zM192 571h1v1h-1zM275 571h2v1h-2zM325 571h2v1h-2zM330 571h3v1h-3zM590 571h12v1h-12zM605 571h2v1h-2zM722 571h1v1h-1zM746 571h1v1h-1zM33 572h1v1h-1zM45 572h1v1h-1zM66 572h1v1h-1zM70 572h2v1h-2zM77 572h1v1h-1zM90 572h4v1h-4zM103 572h5v1h-5zM154 572h2v1h-2zM179 572h3v1h-3zM186 572h3v1h-3zM193 572h1v1h-1zM235 572h1v1h-1zM273 572h2v1h-2zM281 572h1v1h-1zM323 572h2v1h-2zM586 572h4v1h-4zM602 572h3v1h-3zM779 572h7v1h-7zM851 572h3v1h-3zM858 572h4v1h-4zM32 573h1v1h-1zM46 573h1v1h-1zM64 573h2v1h-2zM86 573h4v1h-4zM108 573h2v1h-2zM127 573h2v1h-2zM156 573h2v1h-2zM177 573h2v1h-2zM194 573h1v1h-1zM233 573h2v1h-2zM236 573h1v1h-1zM271 573h2v1h-2zM583 573h3v1h-3zM778 573h1v1h-1zM786 573h2v1h-2zM849 573h2v1h-2zM854 573h4v1h-4zM862 573h5v1h-5zM31 574h1v1h-1zM47 574h1v1h-1zM62 574h2v1h-2zM82 574h4v1h-4zM110 574h1v1h-1zM126 574h1v1h-1zM129 574h2v1h-2zM144 574h1v1h-1zM158 574h1v1h-1zM171 574h6v1h-6zM230 574h3v1h-3zM237 574h1v1h-1zM270 574h1v1h-1zM554 574h1v1h-1zM581 574h2v1h-2zM720 574h1v1h-1zM776 574h2v1h-2zM788 574h1v1h-1zM847 574h2v1h-2zM891 574h5v1h-5zM30 575h1v1h-1zM55 575h7v1h-7zM79 575h3v1h-3zM111 575h2v1h-2zM124 575h2v1h-2zM131 575h3v1h-3zM143 575h1v1h-1zM159 575h6v1h-6zM170 575h1v1h-1zM227 575h3v1h-3zM238 575h1v1h-1zM269 575h1v1h-1zM283 575h3v1h-3zM551 575h3v1h-3zM579 575h2v1h-2zM775 575h1v1h-1zM789 575h1v1h-1zM845 575h2v1h-2zM889 575h2v1h-2zM896 575h1v1h-1zM113 576h2v1h-2zM123 576h1v1h-1zM134 576h1v1h-1zM165 576h2v1h-2zM168 576h2v1h-2zM226 576h1v1h-1zM239 576h1v1h-1zM268 576h1v1h-1zM286 576h1v1h-1zM578 576h1v1h-1zM636 576h2v1h-2zM774 576h1v1h-1zM790 576h1v1h-1zM842 576h3v1h-3zM887 576h2v1h-2zM919 576h7v1h-7zM6 577h1v1h-1zM115 577h1v1h-1zM122 577h1v1h-1zM167 577h1v1h-1zM224 577h2v1h-2zM264 577h4v1h-4zM315 577h1v1h-1zM638 577h7v1h-7zM772 577h2v1h-2zM791 577h5v1h-5zM839 577h3v1h-3zM906 577h2v1h-2zM917 577h2v1h-2zM926 577h3v1h-3zM934 577h1v1h-1zM946 577h7v1h-7zM3 578h3v1h-3zM23 578h3v1h-3zM28 578h1v1h-1zM53 578h1v1h-1zM116 578h1v1h-1zM223 578h1v1h-1zM314 578h1v1h-1zM316 578h2v1h-2zM645 578h2v1h-2zM650 578h1v1h-1zM771 578h1v1h-1zM796 578h2v1h-2zM819 578h5v1h-5zM838 578h1v1h-1zM898 578h1v1h-1zM902 578h4v1h-4zM908 578h1v1h-1zM915 578h2v1h-2zM929 578h2v1h-2zM932 578h2v1h-2zM943 578h3v1h-3zM953 578h2v1h-2zM22 579h1v1h-1zM26 579h2v1h-2zM117 579h1v1h-1zM222 579h1v1h-1zM241 579h1v1h-1zM318 579h1v1h-1zM576 579h1v1h-1zM647 579h3v1h-3zM770 579h1v1h-1zM798 579h1v1h-1zM824 579h2v1h-2zM831 579h3v1h-3zM836 579h2v1h-2zM899 579h3v1h-3zM909 579h1v1h-1zM914 579h1v1h-1zM931 579h1v1h-1zM955 579h1v1h-1zM20 580h2v1h-2zM118 580h1v1h-1zM120 580h1v1h-1zM220 580h2v1h-2zM575 580h1v1h-1zM768 580h2v1h-2zM799 580h2v1h-2zM826 580h1v1h-1zM829 580h2v1h-2zM834 580h2v1h-2zM910 580h1v1h-1zM912 580h2v1h-2zM956 580h1v1h-1zM963 580h1v1h-1zM19 581h1v1h-1zM51 581h1v1h-1zM119 581h1v1h-1zM219 581h1v1h-1zM312 581h1v1h-1zM539 581h3v1h-3zM574 581h1v1h-1zM766 581h2v1h-2zM801 581h2v1h-2zM810 581h2v1h-2zM827 581h2v1h-2zM911 581h1v1h-1zM962 581h1v1h-1zM18 582h1v1h-1zM218 582h1v1h-1zM243 582h1v1h-1zM311 582h1v1h-1zM371 582h2v1h-2zM538 582h1v1h-1zM542 582h4v1h-4zM710 582h2v1h-2zM752 582h1v1h-1zM763 582h3v1h-3zM803 582h7v1h-7zM812 582h1v1h-1zM961 582h1v1h-1zM1075 582h1v1h-1zM1132 582h2v1h-2zM1259 582h3v1h-3zM216 583h2v1h-2zM299 583h5v1h-5zM310 583h1v1h-1zM370 583h1v1h-1zM373 583h2v1h-2zM531 583h2v1h-2zM537 583h1v1h-1zM546 583h1v1h-1zM704 583h6v1h-6zM762 583h1v1h-1zM813 583h1v1h-1zM958 583h1v1h-1zM960 583h1v1h-1zM965 583h1v1h-1zM1074 583h1v1h-1zM1076 583h1v1h-1zM1134 583h2v1h-2zM1262 583h6v1h-6zM215 584h1v1h-1zM291 584h3v1h-3zM297 584h2v1h-2zM304 584h2v1h-2zM309 584h1v1h-1zM375 584h2v1h-2zM530 584h1v1h-1zM533 584h2v1h-2zM536 584h1v1h-1zM572 584h1v1h-1zM814 584h1v1h-1zM959 584h1v1h-1zM996 584h2v1h-2zM1023 584h1v1h-1zM1043 584h3v1h-3zM1077 584h1v1h-1zM1136 584h1v1h-1zM11 585h3v1h-3zM16 585h1v1h-1zM214 585h1v1h-1zM245 585h1v1h-1zM294 585h3v1h-3zM306 585h1v1h-1zM308 585h1v1h-1zM377 585h2v1h-2zM490 585h4v1h-4zM523 585h1v1h-1zM535 585h1v1h-1zM571 585h1v1h-1zM713 585h1v1h-1zM754 585h1v1h-1zM815 585h1v1h-1zM882 585h1v1h-1zM998 585h2v1h-2zM1022 585h1v1h-1zM1024 585h2v1h-2zM1035 585h3v1h-3zM1041 585h2v1h-2zM1046 585h2v1h-2zM1063 585h3v1h-3zM1078 585h1v1h-1zM1257 585h1v1h-1zM14 586h2v1h-2zM307 586h1v1h-1zM363 586h3v1h-3zM368 586h1v1h-1zM379 586h1v1h-1zM487 586h3v1h-3zM494 586h3v1h-3zM522 586h1v1h-1zM524 586h2v1h-2zM560 586h1v1h-1zM755 586h3v1h-3zM760 586h1v1h-1zM873 586h1v1h-1zM880 586h2v1h-2zM967 586h2v1h-2zM978 586h4v1h-4zM1000 586h1v1h-1zM1020 586h2v1h-2zM1026 586h1v1h-1zM1033 586h2v1h-2zM1038 586h3v1h-3zM1048 586h2v1h-2zM1061 586h2v1h-2zM1066 586h4v1h-4zM1072 586h1v1h-1zM1079 586h2v1h-2zM1223 586h1v1h-1zM1252 586h2v1h-2zM258 587h1v1h-1zM362 587h1v1h-1zM366 587h2v1h-2zM380 587h2v1h-2zM390 587h2v1h-2zM422 587h6v1h-6zM439 587h1v1h-1zM486 587h1v1h-1zM497 587h2v1h-2zM521 587h1v1h-1zM526 587h1v1h-1zM528 587h1v1h-1zM561 587h1v1h-1zM758 587h2v1h-2zM879 587h1v1h-1zM969 587h2v1h-2zM974 587h4v1h-4zM982 587h4v1h-4zM1001 587h1v1h-1zM1027 587h6v1h-6zM1050 587h1v1h-1zM1059 587h2v1h-2zM1070 587h2v1h-2zM1081 587h2v1h-2zM1086 587h4v1h-4zM1138 587h1v1h-1zM1221 587h2v1h-2zM1224 587h1v1h-1zM1254 587h1v1h-1zM212 588h1v1h-1zM247 588h2v1h-2zM255 588h3v1h-3zM361 588h1v1h-1zM382 588h1v1h-1zM386 588h4v1h-4zM392 588h1v1h-1zM419 588h3v1h-3zM428 588h2v1h-2zM438 588h1v1h-1zM499 588h1v1h-1zM520 588h1v1h-1zM527 588h1v1h-1zM562 588h1v1h-1zM569 588h1v1h-1zM877 588h2v1h-2zM971 588h3v1h-3zM986 588h2v1h-2zM1002 588h1v1h-1zM1051 588h1v1h-1zM1058 588h1v1h-1zM1083 588h3v1h-3zM1090 588h6v1h-6zM1119 588h3v1h-3zM1139 588h3v1h-3zM1146 588h2v1h-2zM1219 588h2v1h-2zM1255 588h1v1h-1zM211 589h1v1h-1zM249 589h2v1h-2zM253 589h2v1h-2zM360 589h1v1h-1zM383 589h3v1h-3zM399 589h5v1h-5zM430 589h1v1h-1zM437 589h1v1h-1zM479 589h2v1h-2zM500 589h1v1h-1zM515 589h5v1h-5zM563 589h2v1h-2zM875 589h2v1h-2zM988 589h1v1h-1zM1003 589h1v1h-1zM1052 589h2v1h-2zM1057 589h1v1h-1zM1096 589h1v1h-1zM1118 589h1v1h-1zM1122 589h2v1h-2zM1142 589h4v1h-4zM1218 589h1v1h-1zM200 590h2v1h-2zM210 590h1v1h-1zM251 590h2v1h-2zM359 590h1v1h-1zM398 590h1v1h-1zM431 590h3v1h-3zM436 590h1v1h-1zM481 590h2v1h-2zM484 590h1v1h-1zM501 590h1v1h-1zM565 590h2v1h-2zM1054 590h1v1h-1zM1056 590h1v1h-1zM1097 590h1v1h-1zM1117 590h1v1h-1zM1124 590h2v1h-2zM1211 590h3v1h-3zM1216 590h2v1h-2zM1226 590h1v1h-1zM202 591h4v1h-4zM208 591h2v1h-2zM394 591h1v1h-1zM396 591h2v1h-2zM434 591h2v1h-2zM471 591h1v1h-1zM483 591h1v1h-1zM502 591h1v1h-1zM567 591h1v1h-1zM656 591h2v1h-2zM1055 591h1v1h-1zM1098 591h1v1h-1zM1111 591h3v1h-3zM1116 591h1v1h-1zM1126 591h1v1h-1zM1149 591h1v1h-1zM1210 591h1v1h-1zM1214 591h2v1h-2zM1227 591h3v1h-3zM206 592h2v1h-2zM395 592h1v1h-1zM405 592h1v1h-1zM470 592h1v1h-1zM472 592h1v1h-1zM477 592h1v1h-1zM503 592h1v1h-1zM658 592h1v1h-1zM990 592h1v1h-1zM1099 592h5v1h-5zM1110 592h1v1h-1zM1114 592h2v1h-2zM1230 592h4v1h-4zM1238 592h2v1h-2zM469 593h1v1h-1zM473 593h1v1h-1zM504 593h1v1h-1zM659 593h1v1h-1zM1104 593h2v1h-2zM1109 593h1v1h-1zM1196 593h1v1h-1zM1234 593h4v1h-4zM1240 593h2v1h-2zM443 594h1v1h-1zM468 594h1v1h-1zM474 594h1v1h-1zM505 594h1v1h-1zM660 594h2v1h-2zM1106 594h1v1h-1zM1108 594h1v1h-1zM1151 594h1v1h-1zM1197 594h1v1h-1zM1208 594h1v1h-1zM1242 594h1v1h-1zM407 595h7v1h-7zM444 595h2v1h-2zM463 595h5v1h-5zM475 595h1v1h-1zM506 595h1v1h-1zM662 595h1v1h-1zM1107 595h1v1h-1zM1152 595h1v1h-1zM1198 595h1v1h-1zM1207 595h1v1h-1zM1243 595h2v1h-2zM414 596h1v1h-1zM446 596h1v1h-1zM507 596h3v1h-3zM663 596h1v1h-1zM1007 596h2v1h-2zM1153 596h1v1h-1zM1199 596h1v1h-1zM1245 596h2v1h-2zM447 597h1v1h-1zM510 597h1v1h-1zM664 597h1v1h-1zM1009 597h2v1h-2zM1154 597h1v1h-1zM448 598h1v1h-1zM1011 598h1v1h-1zM1155 598h1v1h-1zM449 599h1v1h-1zM1012 599h1v1h-1zM1156 599h2v1h-2zM1201 599h1v1h-1zM450 600h1v1h-1zM666 600h1v1h-1zM1013 600h1v1h-1zM1158 600h1v1h-1zM451 601h7v1h-7zM667 601h1v1h-1zM1014 601h1v1h-1zM1159 601h2v1h-2zM458 602h2v1h-2zM668 602h2v1h-2zM1161 602h2v1h-2zM1203 602h1v1h-1zM670 603h1v1h-1zM1163 603h7v1h-7zM671 604h5v1h-5zM1170 604h3v1h-3zM676 605h2v1h-2zM1173 605h2v1h-2zM678 606h1v1h-1zM1175 606h3v1h-3zM679 607h1v1h-1zM1178 607h4v1h-4zM680 608h1v1h-1zM1182 608h4v1h-4zM1186 609h2v1h-2zM682 611h1v1h-1zM693 611h1v1h-1zM683 612h6v1h-6zM689 613h2v1h-2zM691 614h1v1h-1z" fill="#1e90ff"/>
</g>
<clipPath id="cd"><rect x="3" y="628" width="1592" height="91"/></clipPath><g clip-path="url(#cd)">
<rect x="3" y="659" width="1" height="9" fill="#c0c0c0"/>
<rect x="7" y="659" width="1" height="6" fill="#c0c0c0"/>
<rect x="11" y="659" width="1" height="8" fill="#c0c0c0"/>
<rect x="15" y="659" width="1" height="9" fill="#c0c0c0"/>
<rect x="19" y="659" width="1" height="8" fill="#c0c0c0"/>
<rect x="23" y="659" width="1" height="6" fill="#c0c0c0"/>
<rect x="27" y="659" width="1" height="5" fill="#c0c0c0"/>
<rect x="31" y="659" width="1" height="2" fill="#c0c0c0"/>
<rect x="35" y="656" width="1" height="3" fill="#c0c0c0"/>
<rect x="39" y="653" width="1" height="6" fill="#c0c0c0"/>
<rect x="43" y="650" width="1" height="9" fill="#c0c0c0"/>
<rect x="47" y="649" width="1" height="10" fill="#c0c0c0"/>
<rect x="51" y="651" width="1" height="8" fill="#c0c0c0"/>
<rect x="55" y="651" width="1" height="8" fill="#c0c0c0"/>
<rect x="59" y="650" width="1" height="9" fill="#c0c0c0"/>
<rect x="63" y="650" width="1" height="9" fill="#c0c0c0"/>
<rect x="67" y="648" width="1" height="11" fill="#c0c0c0"/>
<rect x="71" y="647" width="1" height="12" fill="#c0c0c0"/>
<rect x="75" y="645" width="1" height="14" fill="#c0c0c0"/>
<rect x="79" y="646" width="1" height="13" fill="#c0c0c0"/>
<rect x="83" y="646" width="1" height="13" fill="#c0c0c0"/>
<rect x="87" y="646" width="1" height="13" fill="#c0c0c0"/>
<rect x="91" y="646" width="1" height="13" fill="#c0c0c0"/>
<rect x="95" y="645" width="1" height="14" fill="#c0c0c0"/>
<rect x="99" y="644" width="1" height="15" fill="#c0c0c0"/>
<rect x="103" y="644" width="1" height="15" fill="#c0c0c0"/>
<rect x="107" y="644" width="1" height="15" fill="#c0c0c0"/>
<rect x="111" y="645" width="1" height="14" fill="#c0c0c0"/>
<rect x="115" y="647" width="1" height="12" fill="#c0c0c0"/>
<rect x="119" y="649" width="1" height="10" fill="#c0c0c0"/>
<rect x="123" y="650" width="1" height="9" fill="#c0c0c0"/>
<rect x="127" y="649" width="1" height="10" fill="#c0c0c0"/>
<rect x="131" y="650" width="1" height="9" fill="#c0c0c0"/>
<rect x="135" y="650" width="1" height="9" fill="#c0c0c0"/>
<rect x="139" y="648" width="1" height="11" fill="#c0c0c0"/>
<rect x="143" y="648" width="1" height="11" fill="#c0c0c0"/>
<rect x="147" y="647" width="1" height="12" fill="#c0c0c0"/>
<rect x="151" y="646" width="1" height="13" fill="#c0c0c0"/>
<rect x="155" y="646" width="1" height="13" fill="#c0c0c0"/>
<rect x="159" y="647" width="1" height="12" fill="#c0c0c0"/>
<rect x="163" y="648" width="1" height="11" fill="#c0c0c0"/>
<rect x="167" y="649" width="1" height="10" fill="#c0c0c0"/>
<rect x="171" y="649" width="1" height="10" fill="#c0c0c0"/>
<rect x="175" y="649" width="1" height="10" fill="#c0c0c0"/>
<rect x="179" y="649" width="1" height="10" fill="#c0c0c0"/>
<rect x="183" y="649" width="1" height="10" fill="#c0c0c0"/>
<rect x="187" y="649" width="1" height="10" fill="#c0c0c0"/>
<rect x="191" y="649" width="1" height="10" fill="#c0c0c0"/>
<rect x="195" y="649" width="1" height="10" fill="#c0c0c0"/>
<rect x="199" y="654" width="1" height="5" fill="#c0c0c0"/>
<rect x="203" y="658" width="1" height="1" fill="#c0c0c0"/>
<rect x="207" y="659" width="1" height="2" fill="#c0c0c0"/>
<rect x="211" y="659" width="1" height="4" fill="#c0c0c0"/>
<rect x="215" y="659" width="1" height="5" fill="#c0c0c0"/>
<rect x="219" y="659" width="1" height="5" fill="#c0c0c0"/>
<rect x="223" y="659" width="1" height="4" fill="#c0c0c0"/>
<rect x="227" y="659" width="1" height="2" fill="#c0c0c0"/>
<rect x="231" y="659" width="1" height="1" fill="#c0c0c0"/>
<rect x="235" y="658" width="1" height="1" fill="#c0c0c0"/>
<rect x="239" y="657" width="1" height="2" fill="#c0c0c0"/>
<rect x="243" y="658" width="1" height="1" fill="#c0c0c0"/>
<rect x="247" y="659" width="1" height="2" fill="#c0c0c0"/>
<rect x="251" y="659" width="1" height="4" fill="#c0c0c0"/>
<rect x="255" y="659" width="1" height="6" fill="#c0c0c0"/>
<rect x="259" y="659" width="1" height="7" fill="#c0c0c0"/>
<rect x="263" y="659" width="1" height="5" fill="#c0c0c0"/>
<rect x="267" y="659" width="1" height="4" fill="#c0c0c0"/>
<rect x="271" y="659" width="1" height="2" fill="#c0c0c0"/>
<rect x="275" y="658" width="1" height="1" fill="#c0c0c0"/>
<rect x="279" y="656" width="1" height="3" fill="#c0c0c0"/>
<rect x="283" y="655" width="1" height="4" fill="#c0c0c0"/>
<rect x="287" y="655" width="1" height="4" fill="#c0c0c0"/>
<rect x="291" y="657" width="1" height="2" fill="#c0c0c0"/>
<rect x="295" y="659" width="1" height="1" fill="#c0c0c0"/>
<rect x="299" y="659" width="1" height="1" fill="#c0c0c0"/>
<rect x="303" y="659" width="1" height="2" fill="#c0c0c0"/>
<rect x="307" y="659" width="1" height="3" fill="#c0c0c0"/>
<rect x="311" y="659" width="1" height="3" fill="#c0c0c0"/>
<rect x="315" y="659" width="1" height="2" fill="#c0c0c0"/>
<rect x="319" y="659" width="1" height="2" fill="#c0c0c0"/>
<rect x="323" y="659" width="1" height="1" fill="#c0c0c0"/>
<rect x="327" y="656" width="1" height="3" fill="#c0c0c0"/>
<rect x="331" y="655" width="1" height="4" fill="#c0c0c0"/>
<rect x="335" y="653" width="1" height="6" fill="#c0c0c0"/>
<rect x="339" y="651" width="1" height="8" fill="#c0c0c0"/>
<rect x="343" y="650" width="1" height="9" fill="#c0c0c0"/>
<rect x="347" y="649" width="1" height="10" fill="#c0c0c0"/>
<rect x="351" y="648" width="1" height="11" fill="#c0c0c0"/>
<rect x="355" y="650" width="1" height="9" fill="#c0c0c0"/>
<rect x="359" y="655" width="1" height="4" fill="#c0c0c0"/>
<rect x="363" y="658" width="1" height="1" fill="#c0c0c0"/>
<rect x="367" y="659" width="1" height="1" fill="#c0c0c0"/>
<rect x="371" y="659" width="1" height="2" fill="#c0c0c0"/>
<rect x="375" y="659" width="1" height="3" fill="#c0c0c0"/>
<rect x="379" y="659" width="1" height="4" fill="#c0c0c0"/>
<rect x="383" y="659" width="1" height="6" fill="#c0c0c0"/>
<rect x="387" y="659" width="1" height="8" fill="#c0c0c0"/>
<rect x="391" y="659" width="1" height="8" fill="#c0c0c0"/>
<rect x="395" y="659" width="1" height="10" fill="#c0c0c0"/>
<rect x="399" y="659" width="1" height="11" fill="#c0c0c0"/>
<rect x="403" y="659" width="1" height="12" fill="#c0c0c0"/>
<rect x="407" y="659" width="1" height="14" fill="#c0c0c0"/>
<rect x="411" y="659" width="1" height="16" fill="#c0c0c0"/>
<rect x="415" y="659" width="1" height="18" fill="#c0c0c0"/>
<rect x="419" y="659" width="1" height="17" fill="#c0c0c0"/>
<rect x="423" y="659" width="1" height="16" fill="#c0c0c0"/>
<rect x="427" y="659" width="1" height="16" fill="#c0c0c0"/>
<rect x="431" y="659" width="1" height="16" fill="#c0c0c0"/>
<rect x="435" y="659" width="1" height="16" fill="#c0c0c0"/>
<rect x="439" y="659" width="1" height="15" fill="#c0c0c0"/>
<rect x="443" y="659" width="1" height="17" fill="#c0c0c0"/>
<rect x="447" y="659" width="1" height="19" fill="#c0c0c0"/>
<rect x="451" y="659" width="1" height="22" fill="#c0c0c0"/>
<rect x="455" y="659" width="1" height="24" fill="#c0c0c0"/>
<rect x="459" y="659" width="1" height="26" fill="#c0c0c0"/>
<rect x="463" y="659" width="1" height="27" fill="#c0c0c0"/>
<rect x="467" y="659" width="1" height="26" fill="#c0c0c0"/>
<rect x="471" y="659" width="1" height="25" fill="#c0c0c0"/>
<rect x="475" y="659" width="1" height="25" fill="#c0c0c0"/>
<rect x="479" y="659" width="1" height="24" fill="#c0c0c0"/>
<rect x="483" y="659" width="1" height="23" fill="#c0c0c0"/>
<rect x="487" y="659" width="1" height="21" fill="#c0c0c0"/>
<rect x="491" y="659" width="1" height="19" fill="#c0c0c0"/>
<rect x="495" y="659" width="1" height="18" fill="#c0c0c0"/>
<rect x="499" y="659" width="1" height="17" fill="#c0c0c0"/>
<rect x="503" y="659" width="1" height="18" fill="#c0c0c0"/>
<rect x="507" y="659" width="1" height="19" fill="#c0c0c0"/>
<rect x="511" y="659" width="1" height="21" fill="#c0c0c0"/>
<rect x="515" y="659" width="1" height="20" fill="#c0c0c0"/>
<rect x="519" y="659" width="1" height="19" fill="#c0c0c0"/>
<rect x="523" y="659" width="1" height="17" fill="#c0c0c0"/>
<rect x="527" y="659" width="1" height="17" fill="#c0c0c0"/>
<rect x="531" y="659" width="1" height="15" fill="#c0c0c0"/>
<rect x="535" y="659" width="1" height="14" fill="#c0c0c0"/>
<rect x="539" y="659" width="1" height="12" fill="#c0c0c0"/>
<rect x="543" y="659" width="1" height="11" fill="#c0c0c0"/>
<rect x="547" y="659" width="1" height="10" fill="#c0c0c0"/>
<rect x="551" y="659" width="1" height="7" fill="#c0c0c0"/>
<rect x="555" y="659" width="1" height="5" fill="#c0c0c0"/>
<rect x="559" y="659" width="1" height="6" fill="#c0c0c0"/>
<rect x="563" y="659" width="1" height="8" fill="#c0c0c0"/>
<rect x="567" y="659" width="1" height="10" fill="#c0c0c0"/>
<rect x="571" y="659" width="1" height="10" fill="#c0c0c0"/>
<rect x="575" y="659" width="1" height="9" fill="#c0c0c0"/>
<rect x="579" y="659" width="1" height="6" fill="#c0c0c0"/>
<rect x="583" y="659" width="1" height="3" fill="#c0c0c0"/>
<rect x="587" y="659" width="1" height="1" fill="#c0c0c0"/>
<rect x="591" y="657" width="1" height="2" fill="#c0c0c0"/>
<rect x="595" y="655" width="1" height="4" fill="#c0c0c0"/>
<rect x="599" y="653" width="1" height="6" fill="#c0c0c0"/>
<rect x="603" y="652" width="1" height="7" fill="#c0c0c0"/>
<rect x="607" y="651" width="1" height="8" fill="#c0c0c0"/>
<rect x="611" y="649" width="1" height="10" fill="#c0c0c0"/>
<rect x="615" y="647" width="1" height="12" fill="#c0c0c0"/>
<rect x="619" y="646" width="1" height="13" fill="#c0c0c0"/>
<rect x="623" y="645" width="1" height="14" fill="#c0c0c0"/>
<rect x="627" y="644" width="1" height="15" fill="#c0c0c0"/>
<rect x="631" y="644" width="1" height="15" fill="#c0c0c0"/>
<rect x="635" y="645" width="1" height="14" fill="#c0c0c0"/>
<rect x="639" y="647" width="1" height="12" fill="#c0c0c0"/>
<rect x="643" y="648" width="1" height="11" fill="#c0c0c0"/>
<rect x="647" y="650" width="1" height="9" fill="#c0c0c0"/>
<rect x="651" y="651" width="1" height="8" fill="#c0c0c0"/>
<rect x="655" y="655" width="1" height="4" fill="#c0c0c0"/>
<rect x="659" y="659" width="1" height="1" fill="#c0c0c0"/>
<rect x="663" y="659" width="1" height="4" fill="#c0c0c0"/>
<rect x="667" y="659" width="1" height="10" fill="#c0c0c0"/>
<rect x="671" y="659" width="1" height="16" fill="#c0c0c0"/>
<rect x="675" y="659" width="1" height="21" fill="#c0c0c0"/>
<rect x="679" y="659" width="1" height="26" fill="#c0c0c0"/>
<rect x="683" y="659" width="1" height="35" fill="#c0c0c0"/>
<rect x="687" y="659" width="1" height="43" fill="#c0c0c0"/>
<rect x="691" y="659" width="1" height="51" fill="#c0c0c0"/>
<rect x="695" y="659" width="1" height="55" fill="#c0c0c0"/>
<rect x="699" y="659" width="1" height="56" fill="#c0c0c0"/>
<rect x="703" y="659" width="1" height="49" fill="#c0c0c0"/>
<rect x="707" y="659" width="1" height="43" fill="#c0c0c0"/>
<rect x="711" y="659" width="1" height="38" fill="#c0c0c0"/>
<rect x="715" y="659" width="1" height="36" fill="#c0c0c0"/>
<rect x="719" y="659" width="1" height="27" fill="#c0c0c0"/>
<rect x="723" y="659" width="1" height="17" fill="#c0c0c0"/>
<rect x="727" y="659" width="1" height="4" fill="#c0c0c0"/>
<rect x="731" y="651" width="1" height="8" fill="#c0c0c0"/>
<rect x="735" y="641" width="1" height="18" fill="#c0c0c0"/>
<rect x="739" y="637" width="1" height="22" fill="#c0c0c0"/>
<rect x="743" y="634" width="1" height="25" fill="#c0c0c0"/>
<rect x="747" y="633" width="1" height="26" fill="#c0c0c0"/>
<rect x="751" y="638" width="1" height="21" fill="#c0c0c0"/>
<rect x="755" y="646" width="1" height="13" fill="#c0c0c0"/>
<rect x="759" y="654" width="1" height="5" fill="#c0c0c0"/>
<rect x="763" y="657" width="1" height="2" fill="#c0c0c0"/>
<rect x="767" y="658" width="1" height="1" fill="#c0c0c0"/>
<rect x="771" y="657" width="1" height="2" fill="#c0c0c0"/>
<rect x="775" y="654" width="1" height="5" fill="#c0c0c0"/>
<rect x="779" y="650" width="1" height="9" fill="#c0c0c0"/>
<rect x="783" y="647" width="1" height="12" fill="#c0c0c0"/>
<rect x="787" y="645" width="1" height="14" fill="#c0c0c0"/>
<rect x="791" y="646" width="1" height="13" fill="#c0c0c0"/>
<rect x="795" y="647" width="1" height="12" fill="#c0c0c0"/>
<rect x="799" y="649" width="1" height="10" fill="#c0c0c0"/>
<rect x="803" y="652" width="1" height="7" fill="#c0c0c0"/>
<rect x="807" y="655" width="1" height="4" fill="#c0c0c0"/>
<rect x="811" y="656" width="1" height="3" fill="#c0c0c0"/>
<rect x="815" y="659" width="1" height="1" fill="#c0c0c0"/>
<rect x="819" y="659" width="1" height="1" fill="#c0c0c0"/>
<rect x="823" y="658" width="1" height="1" fill="#c0c0c0"/>
<rect x="827" y="659" width="1" height="1" fill="#c0c0c0"/>
<rect x="831" y="659" width="1" height="1" fill="#c0c0c0"/>
<rect x="835" y="659" width="1" height="1" fill="#c0c0c0"/>
<rect x="839" y="658" width="1" height="1" fill="#c0c0c0"/>
<rect x="843" y="657" width="1" height="2" fill="#c0c0c0"/>
<rect x="847" y="655" width="1" height="4" fill="#c0c0c0"/>
<rect x="851" y="653" width="1" height="6" fill="#c0c0c0"/>
<rect x="855" y="651" width="1" height="8" fill="#c0c0c0"/>
<rect x="859" y="650" width="1" height="9" fill="#c0c0c0"/>
<rect x="863" y="649" width="1" height="10" fill="#c0c0c0"/>
<rect x="867" y="649" width="1" height="10" fill="#c0c0c0"/>
<rect x="871" y="652" width="1" height="7" fill="#c0c0c0"/>
<rect x="875" y="657" width="1" height="2" fill="#c0c0c0"/>
<rect x="879" y="659" width="1" height="1" fill="#c0c0c0"/>
<rect x="883" y="659" width="1" height="3" fill="#c0c0c0"/>
<rect x="887" y="659" width="1" height="1" fill="#c0c0c0"/>
<rect x="891" y="657" width="1" height="2" fill="#c0c0c0"/>
<rect x="895" y="655" width="1" height="4" fill="#c0c0c0"/>
<rect x="899" y="656" width="1" height="3" fill="#c0c0c0"/>
<rect x="903" y="656" width="1" height="3" fill="#c0c0c0"/>
<rect x="907" y="655" width="1" height="4" fill="#c0c0c0"/>
<rect x="911" y="657" width="1" height="2" fill="#c0c0c0"/>
<rect x="915" y="657" width="1" height="2" fill="#c0c0c0"/>
<rect x="919" y="656" width="1" height="3" fill="#c0c0c0"/>
<rect x="923" y="655" width="1" height="4" fill="#c0c0c0"/>
<rect x="927" y="655" width="1" height="4" fill="#c0c0c0"/>
<rect x="931" y="656" width="1" height="3" fill="#c0c0c0"/>
<rect x="935" y="655" width="1" height="4" fill="#c0c0c0"/>
<rect x="939" y="658" width="1" height="1" fill="#c0c0c0"/>
<rect x="943" y="658" width="1" height="1" fill="#c0c0c0"/>
<rect x="947" y="657" width="1" height="2" fill="#c0c0c0"/>
<rect x="951" y="657" width="1" height="2" fill="#c0c0c0"/>
<rect x="955" y="657" width="1" height="2" fill="#c0c0c0"/>
<rect x="959" y="659" width="1" height="1" fill="#c0c0c0"/>
<rect x="963" y="659" width="1" height="1" fill="#c0c0c0"/>
<rect x="967" y="659" width="1" height="3" fill="#c0c0c0"/>
<rect x="971" y="659" width="1" height="5" fill="#c0c0c0"/>
<rect x="975" y="659" width="1" height="8" fill="#c0c0c0"/>
<rect x="979" y="659" width="1" height="9" fill="#c0c0c0"/>
<rect x="983" y="659" width="1" height="10" fill="#c0c0c0"/>
<rect x="987" y="659" width="1" height="11" fill="#c0c0c0"/>
<rect x="991" y="659" width="1" height="14" fill="#c0c0c0"/>
<rect x="995" y="659" width="1" height="13" fill="#c0c0c0"/>
<rect x="999" y="659" width="1" height="13" fill="#c0c0c0"/>
<rect x="1003" y="659" width="1" height="15" fill="#c0c0c0"/>
<rect x="1007" y="659" width="1" height="19" fill="#c0c0c0"/>
<rect x="1011" y="659" width="1" height="24" fill="#c0c0c0"/>
<rect x="1015" y="659" width="1" height="31" fill="#c0c0c0"/>
<rect x="1019" y="659" width="1" height="30" fill="#c0c0c0"/>
<rect x="1023" y="659" width="1" height="27" fill="#c0c0c0"/>
<rect x="1027" y="659" width="1" height="27" fill="#c0c0c0"/>
<rect x="1031" y="659" width="1" height="27" fill="#c0c0c0"/>
<rect x="1035" y="659" width="1" height="26" fill="#c0c0c0"/>
<rect x="1039" y="659" width="1" height="25" fill="#c0c0c0"/>
<rect x="1043" y="659" width="1" height="23" fill="#c0c0c0"/>
<rect x="1047" y="659" width="1" height="22" fill="#c0c0c0"/>
<rect x="1051" y="659" width="1" height="22" fill="#c0c0c0"/>
<rect x="1055" y="659" width="1" height="24" fill="#c0c0c0"/>
<rect x="1059" y="659" width="1" height="23" fill="#c0c0c0"/>
<rect x="1063" y="659" width="1" height="22" fill="#c0c0c0"/>
<rect x="1067" y="659" width="1" height="21" fill="#c0c0c0"/>
<rect x="1071" y="659" width="1" height="20" fill="#c0c0c0"/>
<rect x="1075" y="659" width="1" height="18" fill="#c0c0c0"/>
<rect x="1079" y="659" width="1" height="18" fill="#c0c0c0"/>
<rect x="1083" y="659" width="1" height="18" fill="#c0c0c0"/>
<rect x="1087" y="659" width="1" height="18" fill="#c0c0c0"/>
<rect x="1091" y="659" width="1" height="18" fill="#c0c0c0"/>
<rect x="1095" y="659" width="1" height="18" fill="#c0c0c0"/>
<rect x="1099" y="659" width="1" height="19" fill="#c0c0c0"/>
<rect x="1103" y="659" width="1" height="19" fill="#c0c0c0"/>
<rect x="1107" y="659" width="1" height="21" fill="#c0c0c0"/>
<rect x="1111" y="659" width="1" height="21" fill="#c0c0c0"/>
<rect x="1115" y="659" width="1" height="21" fill="#c0c0c0"/>
<rect x="1119" y="659" width="1" height="20" fill="#c0c0c0"/>
<rect x="1123" y="659" width="1" height="20" fill="#c0c0c0"/>
<rect x="1127" y="659" width="1" height="20" fill="#c0c0c0"/>
<rect x="1131" y="659" width="1" height="18" fill="#c0c0c0"/>
<rect x="1135" y="659" width="1" height="16" fill="#c0c0c0"/>
<rect x="1139" y="659" width="1" height="16" fill="#c0c0c0"/>
<rect x="1143" y="659" width="1" height="16" fill="#c0c0c0"/>
<rect x="1147" y="659" width="1" height="16" fill="#c0c0c0"/>
<rect x="1151" y="659" width="1" height="18" fill="#c0c0c0"/>
<rect x="1155" y="659" width="1" height="21" fill="#c0c0c0"/>
<rect x="1159" y="659" width="1" height="25" fill="#c0c0c0"/>
<rect x="1163" y="659" width="1" height="29" fill="#c0c0c0"/>
<rect x="1167" y="659" width="1" height="32" fill="#c0c0c0"/>
<rect x="1171" y="659" width="1" height="34" fill="#c0c0c0"/>
<rect x="1175" y="659" width="1" height="37" fill="#c0c0c0"/>
<rect x="1179" y="659" width="1" height="40" fill="#c0c0c0"/>
<rect x="1183" y="659" width="1" height="43" fill="#c0c0c0"/>
<rect x="1187" y="659" width="1" height="45" fill="#c0c0c0"/>
<rect x="1191" y="659" width="1" height="45" fill="#c0c0c0"/>
<rect x="1195" y="659" width="1" height="42" fill="#c0c0c0"/>
<rect x="1199" y="659" width="1" height="41" fill="#c0c0c0"/>
<rect x="1203" y="659" width="1" height="44" fill="#c0c0c0"/>
<rect x="1207" y="659" width="1" height="44" fill="#c0c0c0"/>
<rect x="1211" y="659" width="1" height="42" fill="#c0c0c0"/>
<rect x="1215" y="659" width="1" height="40" fill="#c0c0c0"/>
<rect x="1219" y="659" width="1" height="37" fill="#c0c0c0"/>
<rect x="1223" y="659" width="1" height="34" fill="#c0c0c0"/>
<rect x="1227" y="659" width="1" height="33" fill="#c0c0c0"/>
<rect x="1231" y="659" width="1" height="33" fill="#c0c0c0"/>
<rect x="1235" y="659" width="1" height="33" fill="#c0c0c0"/>
<rect x="1239" y="659" width="1" height="32" fill="#c0c0c0"/>
<rect x="1243" y="659" width="1" height="32" fill="#c0c0c0"/>
<rect x="1247" y="659" width="1" height="34" fill="#c0c0c0"/>
<rect x="1251" y="659" width="1" height="31" fill="#c0c0c0"/>
<rect x="1255" y="659" width="1" height="29" fill="#c0c0c0"/>
<rect x="1259" y="659" width="1" height="26" fill="#c0c0c0"/>
<rect x="1263" y="659" width="1" height="23" fill="#c0c0c0"/>
<rect x="1267" y="659" width="1" height="21" fill="#c0c0c0"/>
<path d="M681 667h1v2h-1zM686 674h1v2h-1zM690 680h1v2h-1zM694 686h1v2h-1zM698 692h1v2h-1zM730 689h1v2h-1zM733 683h1v2h-1zM736 677h1v2h-1zM739 671h1v2h-1zM742 665h1v2h-1zM745 660h1v2h-1zM765 643h1v1h-1zM759 644h3v1h-3zM766 644h2v1h-2zM105 645h3v1h-3zM111 645h3v1h-3zM117 645h1v1h-1zM94 646h2v1h-2zM99 646h3v1h-3zM118 646h2v1h-2zM123 646h3v1h-3zM129 646h1v1h-1zM639 646h3v1h-3zM645 646h3v1h-3zM771 646h2v1h-2zM93 647h1v1h-1zM130 647h2v1h-2zM634 647h2v1h-2zM651 647h3v1h-3zM755 647h1v1h-1zM773 647h1v1h-1zM81 648h3v1h-3zM87 648h3v1h-3zM135 648h3v1h-3zM141 648h1v1h-1zM154 648h2v1h-2zM159 648h3v1h-3zM165 648h3v1h-3zM171 648h3v1h-3zM177 648h3v1h-3zM183 648h3v1h-3zM189 648h1v1h-1zM633 648h1v1h-1zM657 648h1v1h-1zM754 648h1v1h-1zM75 649h3v1h-3zM142 649h2v1h-2zM147 649h3v1h-3zM153 649h1v1h-1zM190 649h2v1h-2zM195 649h3v1h-3zM201 649h1v1h-1zM627 649h3v1h-3zM658 649h2v1h-2zM753 649h1v1h-1zM777 649h2v1h-2zM70 650h2v1h-2zM202 650h2v1h-2zM779 650h1v1h-1zM801 650h3v1h-3zM807 650h3v1h-3zM813 650h1v1h-1zM69 651h1v1h-1zM622 651h2v1h-2zM663 651h1v1h-1zM783 651h3v1h-3zM795 651h3v1h-3zM814 651h2v1h-2zM63 652h3v1h-3zM207 652h3v1h-3zM357 652h3v1h-3zM363 652h3v1h-3zM621 652h1v1h-1zM664 652h2v1h-2zM789 652h3v1h-3zM819 652h2v1h-2zM351 653h3v1h-3zM369 653h1v1h-1zM617 653h1v1h-1zM750 653h1v1h-1zM821 653h1v1h-1zM873 653h3v1h-3zM879 653h3v1h-3zM59 654h1v1h-1zM213 654h2v1h-2zM370 654h2v1h-2zM615 654h2v1h-2zM749 654h1v1h-1zM825 654h1v1h-1zM867 654h3v1h-3zM885 654h3v1h-3zM57 655h2v1h-2zM215 655h1v1h-1zM346 655h2v1h-2zM375 655h3v1h-3zM669 655h1v1h-1zM748 655h1v1h-1zM826 655h2v1h-2zM862 655h2v1h-2zM891 655h3v1h-3zM345 656h1v1h-1zM611 656h1v1h-1zM670 656h1v1h-1zM831 656h3v1h-3zM861 656h1v1h-1zM897 656h3v1h-3zM922 656h2v1h-2zM927 656h3v1h-3zM933 656h3v1h-3zM939 656h3v1h-3zM945 656h3v1h-3zM951 656h3v1h-3zM51 657h3v1h-3zM219 657h3v1h-3zM341 657h1v1h-1zM381 657h2v1h-2zM609 657h2v1h-2zM671 657h1v1h-1zM837 657h1v1h-1zM855 657h3v1h-3zM903 657h3v1h-3zM915 657h3v1h-3zM921 657h1v1h-1zM957 657h3v1h-3zM963 657h3v1h-3zM298 658h2v1h-2zM303 658h3v1h-3zM309 658h1v1h-1zM339 658h2v1h-2zM383 658h1v1h-1zM838 658h2v1h-2zM843 658h3v1h-3zM849 658h3v1h-3zM909 658h3v1h-3zM969 658h1v1h-1zM47 659h1v1h-1zM225 659h2v1h-2zM291 659h3v1h-3zM297 659h1v1h-1zM310 659h2v1h-2zM315 659h3v1h-3zM334 659h2v1h-2zM605 659h1v1h-1zM746 659h1v1h-1zM970 659h2v1h-2zM45 660h2v1h-2zM227 660h1v1h-1zM249 660h3v1h-3zM286 660h2v1h-2zM321 660h3v1h-3zM327 660h3v1h-3zM333 660h1v1h-1zM387 660h2v1h-2zM603 660h2v1h-2zM975 660h3v1h-3zM231 661h3v1h-3zM237 661h3v1h-3zM243 661h3v1h-3zM255 661h3v1h-3zM261 661h3v1h-3zM285 661h1v1h-1zM389 661h1v1h-1zM675 661h1v1h-1zM981 661h1v1h-1zM41 662h1v1h-1zM267 662h3v1h-3zM273 662h3v1h-3zM279 662h3v1h-3zM598 662h2v1h-2zM676 662h1v1h-1zM982 662h2v1h-2zM39 663h2v1h-2zM393 663h2v1h-2zM597 663h1v1h-1zM677 663h1v1h-1zM395 664h1v1h-1zM593 664h1v1h-1zM987 664h2v1h-2zM34 665h2v1h-2zM399 665h3v1h-3zM586 665h2v1h-2zM591 665h2v1h-2zM989 665h1v1h-1zM33 666h1v1h-1zM585 666h1v1h-1zM993 666h1v1h-1zM27 667h3v1h-3zM405 667h2v1h-2zM574 667h2v1h-2zM579 667h3v1h-3zM741 667h1v1h-1zM994 667h2v1h-2zM407 668h1v1h-1zM567 668h3v1h-3zM573 668h1v1h-1zM999 668h2v1h-2zM22 669h2v1h-2zM411 669h2v1h-2zM562 669h2v1h-2zM682 669h1v1h-1zM1001 669h1v1h-1zM21 670h1v1h-1zM413 670h1v1h-1zM561 670h1v1h-1zM1005 670h1v1h-1zM15 671h3v1h-3zM417 671h1v1h-1zM555 671h3v1h-3zM1006 671h2v1h-2zM418 672h2v1h-2zM11 673h1v1h-1zM423 673h3v1h-3zM550 673h2v1h-2zM685 673h1v1h-1zM738 673h1v1h-1zM1011 673h1v1h-1zM9 674h2v1h-2zM429 674h3v1h-3zM549 674h1v1h-1zM1012 674h2v1h-2zM435 675h3v1h-3zM441 675h3v1h-3zM543 675h3v1h-3zM5 676h1v1h-1zM447 676h3v1h-3zM453 676h1v1h-1zM538 676h2v1h-2zM3 677h2v1h-2zM454 677h2v1h-2zM526 677h2v1h-2zM531 677h3v1h-3zM537 677h1v1h-1zM1017 677h2v1h-2zM1102 677h2v1h-2zM1149 677h3v1h-3zM1155 677h3v1h-3zM1161 677h1v1h-1zM459 678h3v1h-3zM519 678h3v1h-3zM525 678h1v1h-1zM1019 678h1v1h-1zM1095 678h3v1h-3zM1101 678h1v1h-1zM1107 678h3v1h-3zM1113 678h3v1h-3zM1138 678h2v1h-2zM1143 678h3v1h-3zM1162 678h2v1h-2zM465 679h1v1h-1zM507 679h3v1h-3zM513 679h3v1h-3zM689 679h1v1h-1zM735 679h1v1h-1zM1089 679h3v1h-3zM1119 679h3v1h-3zM1125 679h3v1h-3zM1131 679h3v1h-3zM1137 679h1v1h-1zM466 680h2v1h-2zM502 680h2v1h-2zM1023 680h3v1h-3zM1078 680h2v1h-2zM1083 680h3v1h-3zM1167 680h2v1h-2zM471 681h3v1h-3zM501 681h1v1h-1zM1071 681h3v1h-3zM1077 681h1v1h-1zM1169 681h1v1h-1zM477 682h1v1h-1zM495 682h3v1h-3zM1029 682h2v1h-2zM1066 682h2v1h-2zM478 683h2v1h-2zM490 683h2v1h-2zM1031 683h1v1h-1zM1059 683h3v1h-3zM1065 683h1v1h-1zM1173 683h2v1h-2zM483 684h3v1h-3zM489 684h1v1h-1zM1035 684h3v1h-3zM1053 684h3v1h-3zM1175 684h1v1h-1zM693 685h1v1h-1zM732 685h1v1h-1zM1041 685h1v1h-1zM1047 685h3v1h-3zM1042 686h2v1h-2zM1179 687h1v1h-1zM1180 688h2v1h-2zM1263 689h3v1h-3zM1258 690h2v1h-2zM697 691h1v1h-1zM729 691h1v1h-1zM1185 691h1v1h-1zM1257 691h1v1h-1zM1186 692h1v1h-1zM1251 692h3v1h-3zM1187 693h1v1h-1zM1246 693h2v1h-2zM1245 694h1v1h-1zM727 695h1v1h-1zM1239 695h3v1h-3zM726 696h1v1h-1zM1191 696h2v1h-2zM702 697h1v1h-1zM725 697h1v1h-1zM1193 697h1v1h-1zM1234 697h2v1h-2zM703 698h1v1h-1zM1197 698h1v1h-1zM1233 698h1v1h-1zM704 699h1v1h-1zM1198 699h2v1h-2zM1227 699h3v1h-3zM1203 700h3v1h-3zM1222 700h2v1h-2zM708 701h1v1h-1zM722 701h1v1h-1zM1209 701h1v1h-1zM1221 701h1v1h-1zM709 702h2v1h-2zM720 702h2v1h-2zM1210 702h2v1h-2zM1215 702h3v1h-3zM714 704h3v1h-3z" fill="#ff0000"/>
</g>
<rect x="1596" y="33" width="2" height="1" fill="#000"/>
<rect x="1596" y="66" width="2" height="1" fill="#000"/>
<rect x="1596" y="99" width="2" height="1" fill="#000"/>
<rect x="1596" y="132" width="2" height="1" fill="#000"/>
<rect x="1596" y="165" width="2" height="1" fill="#000"/>
<rect x="1596" y="198" width="2" height="1" fill="#000"/>
<rect x="1596" y="231" width="2" height="1" fill="#000"/>
<rect x="1596" y="264" width="2" height="1" fill="#000"/>
<rect x="1596" y="297" width="2" height="1" fill="#000"/>
<rect x="1596" y="330" width="2" height="1" fill="#000"/>
<rect x="1596" y="363" width="2" height="1" fill="#000"/>
<rect x="1596" y="396" width="2" height="1" fill="#000"/>
<rect x="1596" y="429" width="2" height="1" fill="#000"/>
<rect x="1596" y="462" width="2" height="1" fill="#000"/>
<rect x="1596" y="495" width="2" height="1" fill="#000"/>
<rect x="1596" y="528" width="2" height="1" fill="#000"/>
<rect x="1596" y="535" width="1" height="1" fill="#000"/>
<rect x="1596" y="561" width="1" height="1" fill="#000"/>
<rect x="1596" y="597" width="1" height="1" fill="#000"/>
<rect x="1596" y="624" width="1" height="1" fill="#000"/>
<rect x="1596" y="629" width="1" height="1" fill="#000"/>
<rect x="1596" y="659" width="1" height="1" fill="#000"/>
<rect x="1596" y="716" width="1" height="1" fill="#000"/>
<rect x="3" y="720" width="1" height="3" fill="#000"/>
<rect x="67" y="720" width="1" height="3" fill="#000"/>
<rect x="131" y="720" width="1" height="3" fill="#000"/>
<rect x="195" y="720" width="1" height="3" fill="#000"/>
<rect x="259" y="720" width="1" height="3" fill="#000"/>
<rect x="323" y="720" width="1" height="3" fill="#000"/>
<rect x="387" y="720" width="1" height="3" fill="#000"/>
<rect x="451" y="720" width="1" height="3" fill="#000"/>
<rect x="515" y="720" width="1" height="3" fill="#000"/>
<rect x="579" y="720" width="1" height="3" fill="#000"/>
<rect x="643" y="720" width="1" height="3" fill="#000"/>
<rect x="707" y="720" width="1" height="3" fill="#000"/>
<rect x="771" y="720" width="1" height="3" fill="#000"/>
<rect x="835" y="720" width="1" height="3" fill="#000"/>
<rect x="899" y="720" width="1" height="3" fill="#000"/>
<rect x="963" y="720" width="1" height="3" fill="#000"/>
<rect x="1027" y="720" width="1" height="3" fill="#000"/>
<rect x="1091" y="720" width="1" height="3" fill="#000"/>
<rect x="1155" y="720" width="1" height="3" fill="#000"/>
<rect x="1219" y="720" width="1" height="3" fill="#000"/>
<rect x="0" y="740" width="1641" height="1" fill="#e3e3e3"/>
<rect x="0" y="742" width="1641" height="20" fill="#f0f0f0"/>
<rect x="109" y="761" width="100" height="1" fill="#b8b8b8"/>
<rect x="0" y="742" width="108" height="1" fill="#000"/><rect x="208" y="742" width="1433" height="1" fill="#000"/>
<rect x="109" y="742" width="98" height="18" fill="#fff"/>
<rect x="108" y="742" width="1" height="19" fill="#000"/><rect x="207" y="742" width="1" height="19" fill="#000"/><rect x="108" y="760" width="100" height="1" fill="#000"/>
<rect x="312" y="745" width="1" height="14" fill="#808080"/>
<rect x="416" y="745" width="1" height="14" fill="#808080"/>
<rect x="520" y="745" width="1" height="14" fill="#808080"/>
<rect x="624" y="745" width="1" height="14" fill="#808080"/>
<rect x="716" y="745" width="1" height="14" fill="#808080"/>
<rect x="808" y="745" width="1" height="14" fill="#808080"/>
<rect x="880" y="745" width="1" height="14" fill="#808080"/>
<rect x="960" y="745" width="1" height="14" fill="#808080"/>
<rect x="1040" y="745" width="1" height="14" fill="#808080"/>
<rect x="1120" y="745" width="1" height="14" fill="#808080"/>
<rect x="1197" y="745" width="1" height="14" fill="#808080"/>
<rect x="1269" y="745" width="1" height="14" fill="#808080"/>
<rect x="1352" y="745" width="1" height="14" fill="#808080"/>
<rect x="1433" y="745" width="1" height="14" fill="#808080"/>
<rect x="1533" y="745" width="1" height="14" fill="#808080"/>
<rect x="1604" y="745" width="1" height="14" fill="#808080"/>
<path d="M1614.4 748v6.4l-3.5-3.2z" fill="#8c8c8c" shape-rendering="auto"/><path d="M1630 748v6.4l3.5-3.2z" fill="#000" shape-rendering="auto"/>
<g shape-rendering="auto" font-family="'Liberation Sans', sans-serif" text-rendering="geometricPrecision">
<g opacity="0.99">
<text x="42.5" y="14" font-size="9.3" fill="#3c3c3c">M1</text>
<text x="71" y="14" font-size="9.3" fill="#3c3c3c">M5</text>
<text x="96.5" y="14" font-size="9.3" fill="#3c3c3c">M15</text>
<text x="125" y="14" font-size="9.3" fill="#3c3c3c">M30</text>
<text x="155.5" y="14" font-size="9.3" fill="#3c3c3c">H1</text>
<text x="183" y="14" font-size="9.3" fill="#3c3c3c">H4</text>
<text x="211.8" y="14" font-size="9.3" fill="#3c3c3c">D1</text>
<text x="239.5" y="14" font-size="9.3" fill="#3c3c3c">W1</text>
<text x="266" y="14" font-size="9.3" fill="#3c3c3c">MN</text>
</g>
<path d="M6 33h7l-3.5 3.5z" fill="#000"/>
<text x="18.2" y="37.9" font-size="10" fill="#000" textLength="64.8" lengthAdjust="spacingAndGlyphs">USDCHF,Daily</text>
<text x="88.8" y="37.9" font-size="10" fill="#000" textLength="140.6" lengthAdjust="spacingAndGlyphs">0.91143 0.91258 0.91137 0.91233</text>
<text x="7.2" y="546" font-size="10" fill="#000" textLength="67.8" lengthAdjust="spacingAndGlyphs">RSI(14) 45.8078</text>
<text x="7.2" y="640" font-size="10" fill="#000" textLength="153.5" lengthAdjust="spacingAndGlyphs">MACD(12,26,9) -0.004051 -0.005594</text>
<text transform="translate(1601.3 37) scale(0.915 1)" font-size="10" fill="#000">1.00650</text>
<text transform="translate(1601.3 70) scale(0.915 1)" font-size="10" fill="#000">0.99950</text>
<text transform="translate(1601.3 103) scale(0.915 1)" font-size="10" fill="#000">0.99230</text>
<text transform="translate(1601.3 136) scale(0.915 1)" font-size="10" fill="#000">0.98510</text>
<text transform="translate(1601.3 169) scale(0.915 1)" font-size="10" fill="#000">0.97790</text>
<text transform="translate(1601.3 202) scale(0.915 1)" font-size="10" fill="#000">0.97070</text>
<text transform="translate(1601.3 235) scale(0.915 1)" font-size="10" fill="#000">0.96350</text>
<text transform="translate(1601.3 268) scale(0.915 1)" font-size="10" fill="#000">0.95630</text>
<text transform="translate(1601.3 301) scale(0.915 1)" font-size="10" fill="#000">0.94910</text>
<text transform="translate(1601.3 334) scale(0.915 1)" font-size="10" fill="#000">0.94190</text>
<text transform="translate(1601.3 367) scale(0.915 1)" font-size="10" fill="#000">0.93470</text>
<text transform="translate(1601.3 400) scale(0.915 1)" font-size="10" fill="#000">0.92750</text>
<text transform="translate(1601.3 433) scale(0.915 1)" font-size="10" fill="#000">0.92030</text>
<text transform="translate(1601.3 466) scale(0.915 1)" font-size="10" fill="#000">0.91310</text>
<text transform="translate(1601.3 499) scale(0.915 1)" font-size="10" fill="#000">0.90610</text>
<text transform="translate(1601.3 532) scale(0.915 1)" font-size="10" fill="#000">0.89890</text>
<text transform="translate(1599.6 544) scale(0.915 1)" font-size="10" fill="#000">100</text>
<text transform="translate(1599.6 565.5) scale(0.915 1)" font-size="10" fill="#000">70</text>
<text transform="translate(1599.6 601.3) scale(0.915 1)" font-size="10" fill="#000">30</text>
<text transform="translate(1599.6 622.3) scale(0.915 1)" font-size="10" fill="#000">0</text>
<text transform="translate(1599.6 638.2) scale(0.915 1)" font-size="10" fill="#000">0.005818</text>
<text transform="translate(1599.6 663.3) scale(0.915 1)" font-size="10" fill="#000">0.00</text>
<text transform="translate(1599.6 716.5) scale(0.915 1)" font-size="10" fill="#000">-0.011514</text>
<text transform="translate(1601.3 262) scale(0.915 1)" font-size="10" fill="#fff">0.95740</text>
<text transform="translate(1601.3 322) scale(0.915 1)" font-size="10" fill="#fff">0.94436</text>
<text transform="translate(1601.3 387) scale(0.915 1)" font-size="10" fill="#fff">0.93024</text>
<text transform="translate(1601.3 447) scale(0.915 1)" font-size="10" fill="#fff">0.91720</text>
<text transform="translate(1601.3 525) scale(0.915 1)" font-size="10" fill="#fff">0.90026</text>
<text transform="translate(1601.3 470) scale(0.915 1)" font-size="10" fill="#fff">0.91233</text>
<text x="2" y="732" font-size="9.35" fill="#000">21 Aug 2019</text>
<text x="66" y="732" font-size="9.35" fill="#000">9 Sep 2019</text>
<text x="130" y="732" font-size="9.35" fill="#000">27 Sep 2019</text>
<text x="194" y="732" font-size="9.35" fill="#000">16 Oct 2019</text>
<text x="258" y="732" font-size="9.35" fill="#000">4 Nov 2019</text>
<text x="322" y="732" font-size="9.35" fill="#000">22 Nov 2019</text>
<text x="386" y="732" font-size="9.35" fill="#000">11 Dec 2019</text>
<text x="450" y="732" font-size="9.35" fill="#000">30 Dec 2019</text>
<text x="514" y="732" font-size="9.35" fill="#000">17 Jan 2020</text>
<text x="578" y="732" font-size="9.35" fill="#000">5 Feb 2020</text>
<text x="642" y="732" font-size="9.35" fill="#000">24 Feb 2020</text>
<text x="706" y="732" font-size="9.35" fill="#000">13 Mar 2020</text>
<text x="770" y="732" font-size="9.35" fill="#000">1 Apr 2020</text>
<text x="834" y="732" font-size="9.35" fill="#000">20 Apr 2020</text>
<text x="898" y="732" font-size="9.35" fill="#000">8 May 2020</text>
<text x="962" y="732" font-size="9.35" fill="#000">27 May 2020</text>
<text x="1026" y="732" font-size="9.35" fill="#000">15 Jun 2020</text>
<text x="1090" y="732" font-size="9.35" fill="#000">3 Jul 2020</text>
<text x="1154" y="732" font-size="9.35" fill="#000">22 Jul 2020</text>
<text x="1218" y="732" font-size="9.35" fill="#000">10 Aug 2020</text>
<text x="16.2" y="756.8" font-size="12" fill="#6e6e6e">EURUSD,Daily</text>
<text x="118.2" y="756.8" font-size="12" fill="#000">USDCHF,Daily</text>
<text x="219.4" y="756.8" font-size="12" fill="#6e6e6e">AUDUSD,Daily</text>
<text x="323.4" y="756.8" font-size="12" fill="#6e6e6e">USDCAD,Daily</text>
<text x="426.3" y="756.8" font-size="12" fill="#6e6e6e">USDCNH,Daily</text>
<text x="532.2" y="756.8" font-size="12" fill="#6e6e6e">EURUSD,Daily</text>
<text x="636" y="756.8" font-size="12" fill="#6e6e6e">GBPUSD,H4</text>
<text x="726.7" y="756.8" font-size="12" fill="#6e6e6e">XAUUSD,H1</text>
<text x="819.2" y="756.8" font-size="12" fill="#6e6e6e">HK50,H1</text>
<text x="891.2" y="756.8" font-size="12" fill="#6e6e6e">UK100,H1</text>
<text x="970.9" y="756.8" font-size="12" fill="#6e6e6e">UK100,H1</text>
<text x="1051.2" y="756.8" font-size="12" fill="#6e6e6e">GER30,H1</text>
<text x="1130.1" y="756.8" font-size="12" fill="#6e6e6e">FRA40,H1</text>
<text x="1206.7" y="756.8" font-size="12" fill="#6e6e6e">USOil,H4</text>
<text x="1278.8" y="756.8" font-size="12" fill="#6e6e6e">USDJPY,H1</text>
<text x="1362.3" y="756.8" font-size="12" fill="#6e6e6e">DJ30,Daily</text>
<text x="1442.2" y="756.8" font-size="12" fill="#6e6e6e">CHINA300,H1</text>
<text x="1542.5" y="756.8" font-size="12" fill="#6e6e6e">USOil,H1</text>
</g>
</svg>
</body></html>
